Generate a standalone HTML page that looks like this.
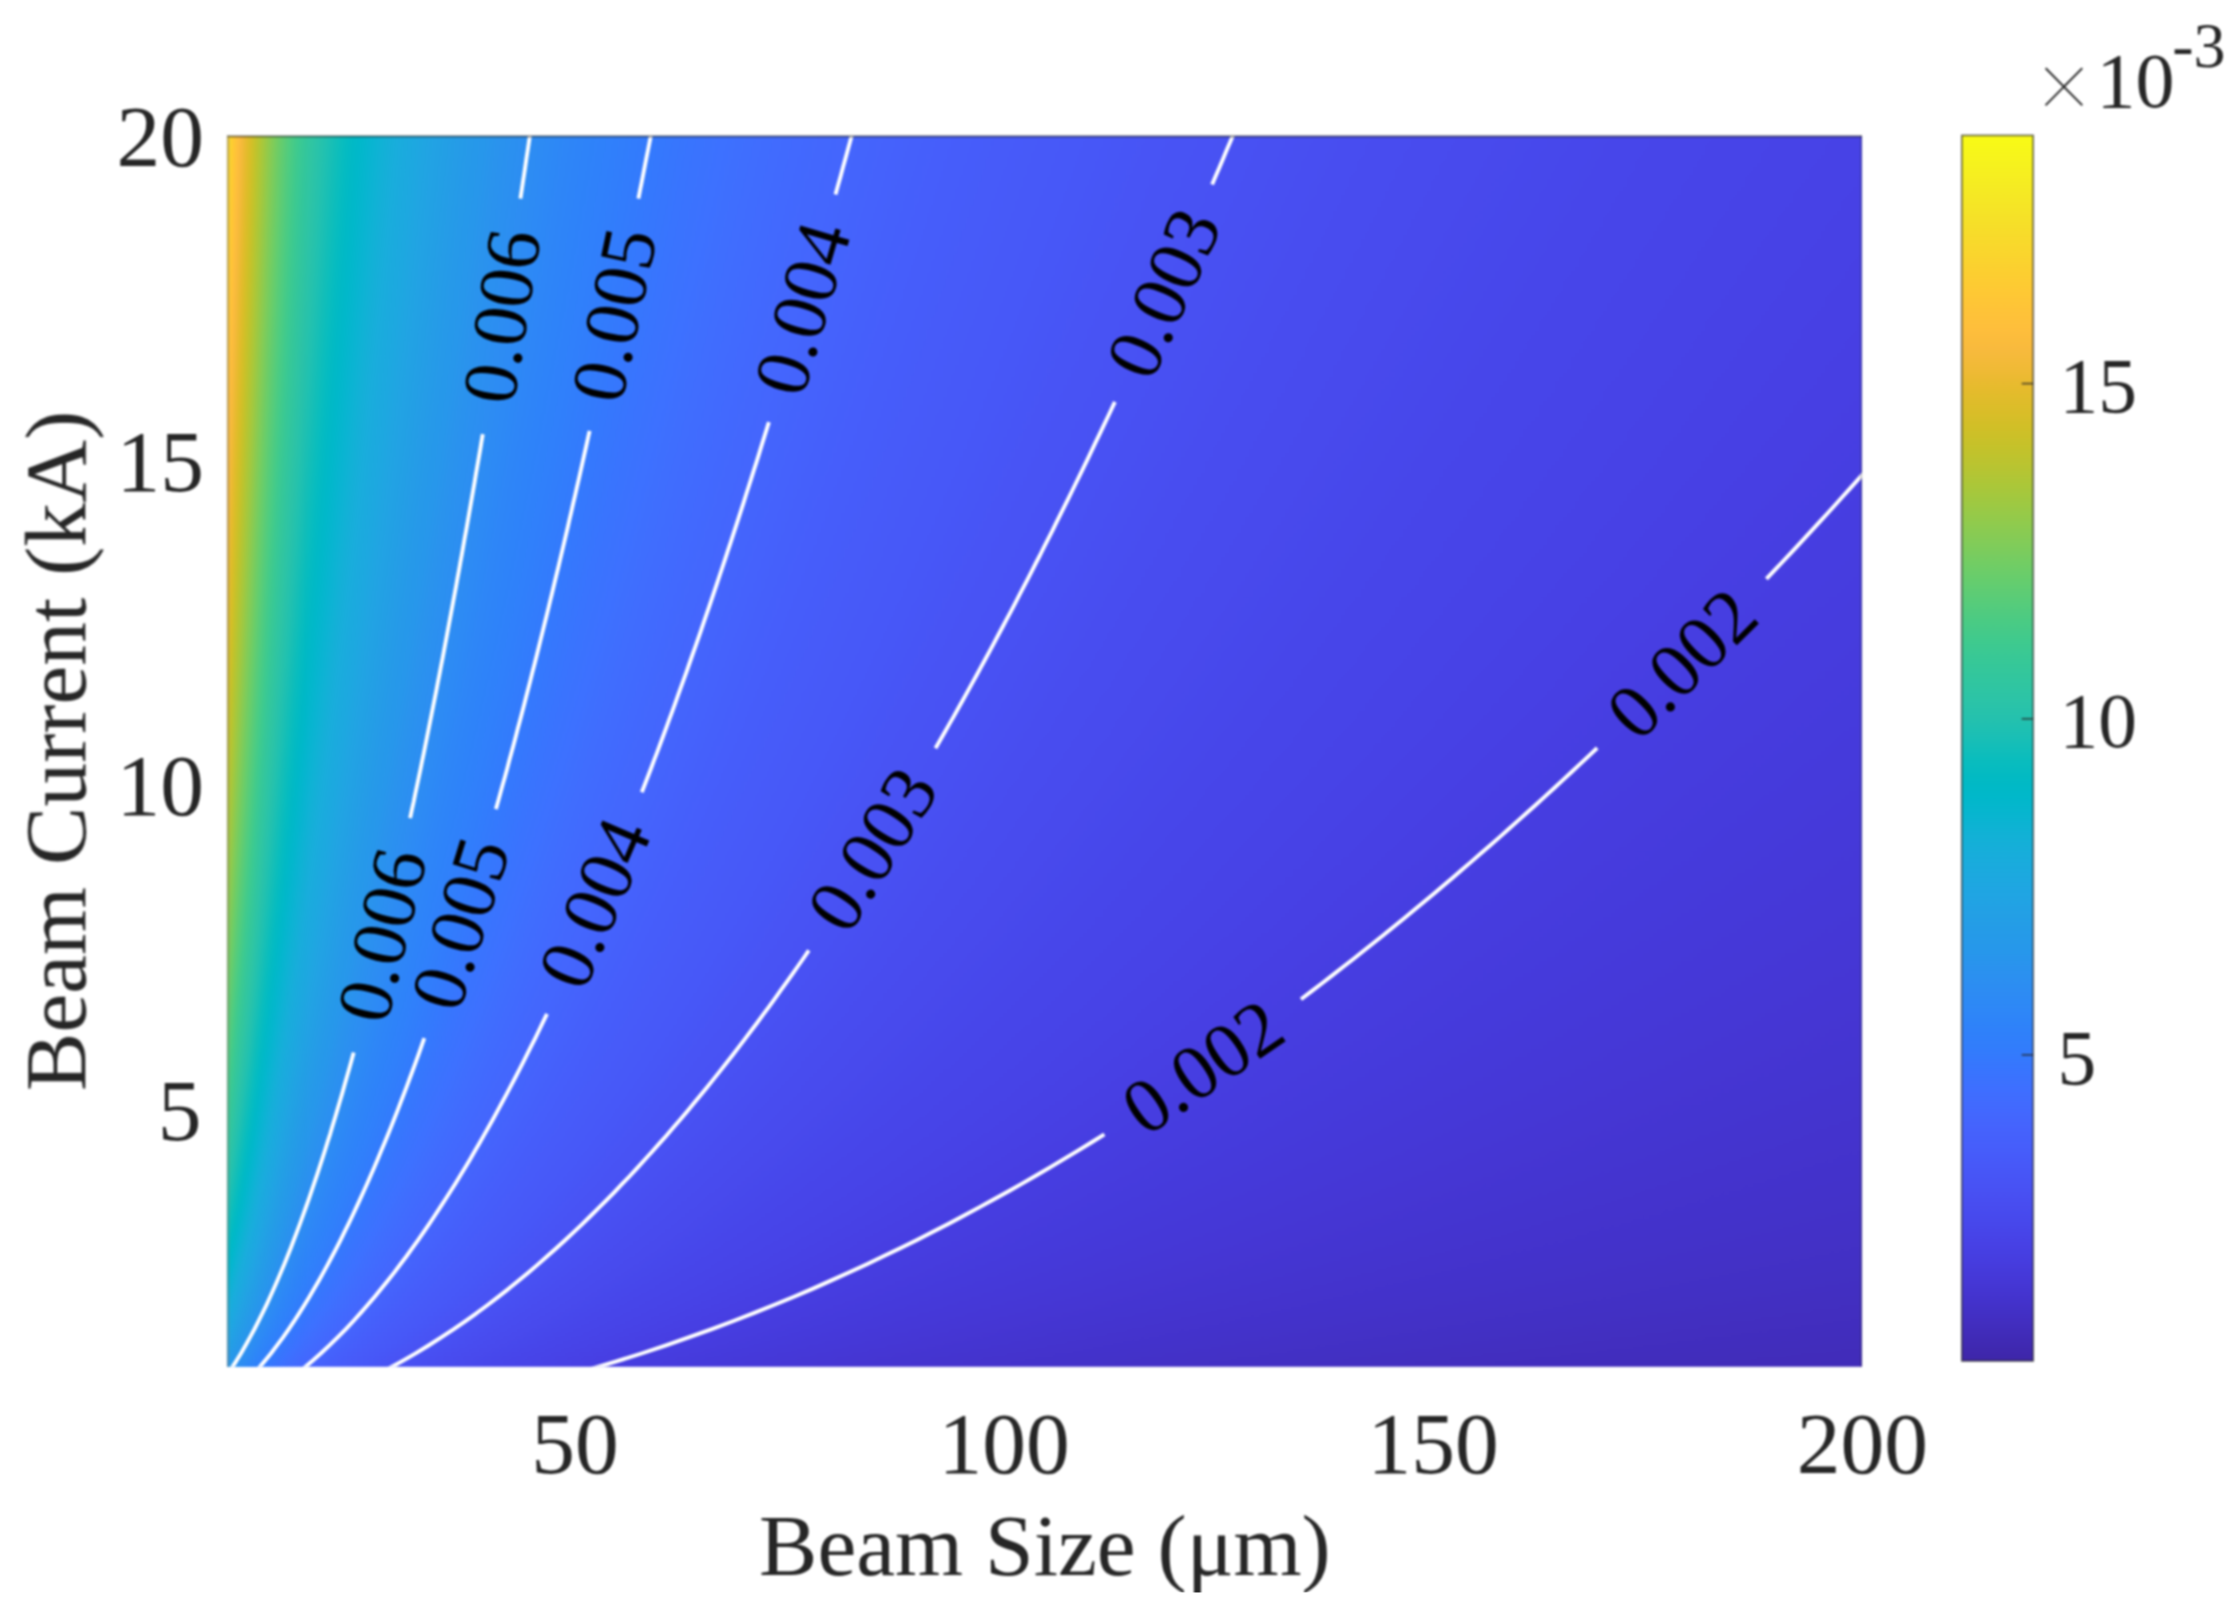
<!DOCTYPE html>
<html lang="en"><head><meta charset="utf-8"><title>Beam Current vs Beam Size</title>
<style>html,body{margin:0;padding:0;background:#fff;}svg{display:block;}text{font-family:"Liberation Serif","DejaVu Serif",serif;}#all{filter:blur(0.9px);}</style></head><body>
<svg width="2236" height="1615" viewBox="0 0 2236 1615">
<rect width="2236" height="1615" fill="#fff"/>
<g id="all">
<defs>
<linearGradient id="g" gradientUnits="userSpaceOnUse" x1="0" y1="0" x2="200" y2="0">
<stop offset="0.01063" stop-color="#fad42e"/>
<stop offset="0.01080" stop-color="#fcd030"/>
<stop offset="0.01098" stop-color="#fdcc32"/>
<stop offset="0.01116" stop-color="#fec834"/>
<stop offset="0.01134" stop-color="#fec537"/>
<stop offset="0.01153" stop-color="#fec13a"/>
<stop offset="0.01173" stop-color="#febe3c"/>
<stop offset="0.01193" stop-color="#fabb3d"/>
<stop offset="0.01214" stop-color="#f6ba3b"/>
<stop offset="0.01235" stop-color="#f1ba37"/>
<stop offset="0.01257" stop-color="#ebba32"/>
<stop offset="0.01279" stop-color="#e6bb2d"/>
<stop offset="0.01303" stop-color="#dfbc2a"/>
<stop offset="0.01327" stop-color="#d9be28"/>
<stop offset="0.01352" stop-color="#d2bf27"/>
<stop offset="0.01377" stop-color="#cbc129"/>
<stop offset="0.01403" stop-color="#c3c22b"/>
<stop offset="0.01431" stop-color="#bbc42f"/>
<stop offset="0.01459" stop-color="#b3c534"/>
<stop offset="0.01488" stop-color="#abc739"/>
<stop offset="0.01518" stop-color="#a3c83f"/>
<stop offset="0.01549" stop-color="#9ac945"/>
<stop offset="0.01581" stop-color="#91ca4c"/>
<stop offset="0.01614" stop-color="#88cb53"/>
<stop offset="0.01649" stop-color="#7fcc5a"/>
<stop offset="0.01684" stop-color="#76cc60"/>
<stop offset="0.01721" stop-color="#6dcd67"/>
<stop offset="0.01759" stop-color="#65cd6e"/>
<stop offset="0.01799" stop-color="#5dcc75"/>
<stop offset="0.01840" stop-color="#55cc7c"/>
<stop offset="0.01883" stop-color="#4dcc82"/>
<stop offset="0.01928" stop-color="#46cb88"/>
<stop offset="0.01974" stop-color="#3fca8e"/>
<stop offset="0.02023" stop-color="#3ac994"/>
<stop offset="0.02073" stop-color="#36c799"/>
<stop offset="0.02125" stop-color="#32c69e"/>
<stop offset="0.02180" stop-color="#2fc5a3"/>
<stop offset="0.02237" stop-color="#2bc3a8"/>
<stop offset="0.02296" stop-color="#26c2ac"/>
<stop offset="0.02359" stop-color="#20c1b1"/>
<stop offset="0.02424" stop-color="#19bfb5"/>
<stop offset="0.02492" stop-color="#11beb9"/>
<stop offset="0.02563" stop-color="#0abdbe"/>
<stop offset="0.02638" stop-color="#04bbc2"/>
<stop offset="0.02716" stop-color="#01b9c6"/>
<stop offset="0.02799" stop-color="#01b8ca"/>
<stop offset="0.02886" stop-color="#05b6ce"/>
<stop offset="0.02977" stop-color="#0ab4d2"/>
<stop offset="0.03074" stop-color="#10b2d5"/>
<stop offset="0.03175" stop-color="#15afd8"/>
<stop offset="0.03282" stop-color="#19addc"/>
<stop offset="0.03396" stop-color="#1baade"/>
<stop offset="0.03516" stop-color="#1da8e0"/>
<stop offset="0.03644" stop-color="#20a5e2"/>
<stop offset="0.03779" stop-color="#22a2e4"/>
<stop offset="0.03923" stop-color="#239fe5"/>
<stop offset="0.04076" stop-color="#259ce7"/>
<stop offset="0.04240" stop-color="#2699e9"/>
<stop offset="0.04415" stop-color="#2797eb"/>
<stop offset="0.04602" stop-color="#2a93ed"/>
<stop offset="0.04803" stop-color="#2b90f0"/>
<stop offset="0.05019" stop-color="#2d8df2"/>
<stop offset="0.05251" stop-color="#2d8af5"/>
<stop offset="0.05502" stop-color="#2e86f7"/>
<stop offset="0.05774" stop-color="#2e83f9"/>
<stop offset="0.06069" stop-color="#3080fb"/>
<stop offset="0.06390" stop-color="#327cfc"/>
<stop offset="0.06740" stop-color="#3578fd"/>
<stop offset="0.07124" stop-color="#3974fe"/>
<stop offset="0.07545" stop-color="#3d71ff"/>
<stop offset="0.08009" stop-color="#406dfe"/>
<stop offset="0.08523" stop-color="#4269fe"/>
<stop offset="0.09094" stop-color="#4466fd"/>
<stop offset="0.09733" stop-color="#4562fc"/>
<stop offset="0.10449" stop-color="#465efb"/>
<stop offset="0.11258" stop-color="#475bf9"/>
<stop offset="0.12177" stop-color="#4758f8"/>
<stop offset="0.13229" stop-color="#4854f5"/>
<stop offset="0.14441" stop-color="#4851f3"/>
<stop offset="0.15849" stop-color="#484df0"/>
<stop offset="0.17503" stop-color="#484aed"/>
<stop offset="0.19466" stop-color="#4746ea"/>
<stop offset="0.21825" stop-color="#4743e7"/>
<stop offset="0.24703" stop-color="#473fe3"/>
<stop offset="0.28274" stop-color="#463cde"/>
<stop offset="0.32796" stop-color="#4539d9"/>
<stop offset="0.38666" stop-color="#4536d3"/>
<stop offset="0.44666" stop-color="#4434ce"/>
<stop offset="0.46524" stop-color="#4433cd"/>
<stop offset="0.52524" stop-color="#4332c9"/>
<stop offset="0.57457" stop-color="#4331c6"/>
<stop offset="0.63457" stop-color="#4230c3"/>
<stop offset="0.69457" stop-color="#422fc0"/>
<stop offset="0.73460" stop-color="#422ebf"/>
<stop offset="0.79460" stop-color="#412dbd"/>
<stop offset="0.85460" stop-color="#412dbb"/>
<stop offset="0.91460" stop-color="#412cba"/>
<stop offset="0.97460" stop-color="#402cb8"/>
<stop offset="0.98568" stop-color="#402bb8"/>
</linearGradient>
<linearGradient id="g0" href="#g" gradientTransform="matrix(38.3548 0 0 1 145.400 0)"/>
<linearGradient id="g1" href="#g" gradientTransform="matrix(38.2955 0 0 1 145.400 0)"/>
<linearGradient id="g2" href="#g" gradientTransform="matrix(38.2362 0 0 1 145.400 0)"/>
<linearGradient id="g3" href="#g" gradientTransform="matrix(38.1768 0 0 1 145.400 0)"/>
<linearGradient id="g4" href="#g" gradientTransform="matrix(38.1173 0 0 1 145.400 0)"/>
<linearGradient id="g5" href="#g" gradientTransform="matrix(38.0577 0 0 1 145.400 0)"/>
<linearGradient id="g6" href="#g" gradientTransform="matrix(37.9980 0 0 1 145.400 0)"/>
<linearGradient id="g7" href="#g" gradientTransform="matrix(37.9382 0 0 1 145.400 0)"/>
<linearGradient id="g8" href="#g" gradientTransform="matrix(37.8783 0 0 1 145.400 0)"/>
<linearGradient id="g9" href="#g" gradientTransform="matrix(37.8183 0 0 1 145.400 0)"/>
<linearGradient id="g10" href="#g" gradientTransform="matrix(37.7582 0 0 1 145.400 0)"/>
<linearGradient id="g11" href="#g" gradientTransform="matrix(37.6981 0 0 1 145.400 0)"/>
<linearGradient id="g12" href="#g" gradientTransform="matrix(37.6378 0 0 1 145.400 0)"/>
<linearGradient id="g13" href="#g" gradientTransform="matrix(37.5774 0 0 1 145.400 0)"/>
<linearGradient id="g14" href="#g" gradientTransform="matrix(37.5170 0 0 1 145.400 0)"/>
<linearGradient id="g15" href="#g" gradientTransform="matrix(37.4564 0 0 1 145.400 0)"/>
<linearGradient id="g16" href="#g" gradientTransform="matrix(37.3957 0 0 1 145.400 0)"/>
<linearGradient id="g17" href="#g" gradientTransform="matrix(37.3350 0 0 1 145.400 0)"/>
<linearGradient id="g18" href="#g" gradientTransform="matrix(37.2741 0 0 1 145.400 0)"/>
<linearGradient id="g19" href="#g" gradientTransform="matrix(37.2132 0 0 1 145.400 0)"/>
<linearGradient id="g20" href="#g" gradientTransform="matrix(37.1521 0 0 1 145.400 0)"/>
<linearGradient id="g21" href="#g" gradientTransform="matrix(37.0910 0 0 1 145.400 0)"/>
<linearGradient id="g22" href="#g" gradientTransform="matrix(37.0297 0 0 1 145.400 0)"/>
<linearGradient id="g23" href="#g" gradientTransform="matrix(36.9683 0 0 1 145.400 0)"/>
<linearGradient id="g24" href="#g" gradientTransform="matrix(36.9069 0 0 1 145.400 0)"/>
<linearGradient id="g25" href="#g" gradientTransform="matrix(36.8453 0 0 1 145.400 0)"/>
<linearGradient id="g26" href="#g" gradientTransform="matrix(36.7837 0 0 1 145.400 0)"/>
<linearGradient id="g27" href="#g" gradientTransform="matrix(36.7219 0 0 1 145.400 0)"/>
<linearGradient id="g28" href="#g" gradientTransform="matrix(36.6600 0 0 1 145.400 0)"/>
<linearGradient id="g29" href="#g" gradientTransform="matrix(36.5980 0 0 1 145.400 0)"/>
<linearGradient id="g30" href="#g" gradientTransform="matrix(36.5360 0 0 1 145.400 0)"/>
<linearGradient id="g31" href="#g" gradientTransform="matrix(36.4738 0 0 1 145.400 0)"/>
<linearGradient id="g32" href="#g" gradientTransform="matrix(36.4115 0 0 1 145.400 0)"/>
<linearGradient id="g33" href="#g" gradientTransform="matrix(36.3491 0 0 1 145.400 0)"/>
<linearGradient id="g34" href="#g" gradientTransform="matrix(36.2866 0 0 1 145.400 0)"/>
<linearGradient id="g35" href="#g" gradientTransform="matrix(36.2239 0 0 1 145.400 0)"/>
<linearGradient id="g36" href="#g" gradientTransform="matrix(36.1612 0 0 1 145.400 0)"/>
<linearGradient id="g37" href="#g" gradientTransform="matrix(36.0984 0 0 1 145.400 0)"/>
<linearGradient id="g38" href="#g" gradientTransform="matrix(36.0354 0 0 1 145.400 0)"/>
<linearGradient id="g39" href="#g" gradientTransform="matrix(35.9724 0 0 1 145.400 0)"/>
<linearGradient id="g40" href="#g" gradientTransform="matrix(35.9092 0 0 1 145.400 0)"/>
<linearGradient id="g41" href="#g" gradientTransform="matrix(35.8459 0 0 1 145.400 0)"/>
<linearGradient id="g42" href="#g" gradientTransform="matrix(35.7826 0 0 1 145.400 0)"/>
<linearGradient id="g43" href="#g" gradientTransform="matrix(35.7191 0 0 1 145.400 0)"/>
<linearGradient id="g44" href="#g" gradientTransform="matrix(35.6554 0 0 1 145.400 0)"/>
<linearGradient id="g45" href="#g" gradientTransform="matrix(35.5917 0 0 1 145.400 0)"/>
<linearGradient id="g46" href="#g" gradientTransform="matrix(35.5279 0 0 1 145.400 0)"/>
<linearGradient id="g47" href="#g" gradientTransform="matrix(35.4639 0 0 1 145.400 0)"/>
<linearGradient id="g48" href="#g" gradientTransform="matrix(35.3998 0 0 1 145.400 0)"/>
<linearGradient id="g49" href="#g" gradientTransform="matrix(35.3357 0 0 1 145.400 0)"/>
<linearGradient id="g50" href="#g" gradientTransform="matrix(35.2713 0 0 1 145.400 0)"/>
<linearGradient id="g51" href="#g" gradientTransform="matrix(35.2069 0 0 1 145.400 0)"/>
<linearGradient id="g52" href="#g" gradientTransform="matrix(35.1424 0 0 1 145.400 0)"/>
<linearGradient id="g53" href="#g" gradientTransform="matrix(35.0777 0 0 1 145.400 0)"/>
<linearGradient id="g54" href="#g" gradientTransform="matrix(35.0129 0 0 1 145.400 0)"/>
<linearGradient id="g55" href="#g" gradientTransform="matrix(34.9480 0 0 1 145.400 0)"/>
<linearGradient id="g56" href="#g" gradientTransform="matrix(34.8830 0 0 1 145.400 0)"/>
<linearGradient id="g57" href="#g" gradientTransform="matrix(34.8179 0 0 1 145.400 0)"/>
<linearGradient id="g58" href="#g" gradientTransform="matrix(34.7526 0 0 1 145.400 0)"/>
<linearGradient id="g59" href="#g" gradientTransform="matrix(34.6872 0 0 1 145.400 0)"/>
<linearGradient id="g60" href="#g" gradientTransform="matrix(34.6217 0 0 1 145.400 0)"/>
<linearGradient id="g61" href="#g" gradientTransform="matrix(34.5561 0 0 1 145.400 0)"/>
<linearGradient id="g62" href="#g" gradientTransform="matrix(34.4903 0 0 1 145.400 0)"/>
<linearGradient id="g63" href="#g" gradientTransform="matrix(34.4245 0 0 1 145.400 0)"/>
<linearGradient id="g64" href="#g" gradientTransform="matrix(34.3584 0 0 1 145.400 0)"/>
<linearGradient id="g65" href="#g" gradientTransform="matrix(34.2923 0 0 1 145.400 0)"/>
<linearGradient id="g66" href="#g" gradientTransform="matrix(34.2260 0 0 1 145.400 0)"/>
<linearGradient id="g67" href="#g" gradientTransform="matrix(34.1596 0 0 1 145.400 0)"/>
<linearGradient id="g68" href="#g" gradientTransform="matrix(34.0931 0 0 1 145.400 0)"/>
<linearGradient id="g69" href="#g" gradientTransform="matrix(34.0265 0 0 1 145.400 0)"/>
<linearGradient id="g70" href="#g" gradientTransform="matrix(33.9597 0 0 1 145.400 0)"/>
<linearGradient id="g71" href="#g" gradientTransform="matrix(33.8928 0 0 1 145.400 0)"/>
<linearGradient id="g72" href="#g" gradientTransform="matrix(33.8257 0 0 1 145.400 0)"/>
<linearGradient id="g73" href="#g" gradientTransform="matrix(33.7585 0 0 1 145.400 0)"/>
<linearGradient id="g74" href="#g" gradientTransform="matrix(33.6912 0 0 1 145.400 0)"/>
<linearGradient id="g75" href="#g" gradientTransform="matrix(33.6238 0 0 1 145.400 0)"/>
<linearGradient id="g76" href="#g" gradientTransform="matrix(33.5562 0 0 1 145.400 0)"/>
<linearGradient id="g77" href="#g" gradientTransform="matrix(33.4885 0 0 1 145.400 0)"/>
<linearGradient id="g78" href="#g" gradientTransform="matrix(33.4206 0 0 1 145.400 0)"/>
<linearGradient id="g79" href="#g" gradientTransform="matrix(33.3526 0 0 1 145.400 0)"/>
<linearGradient id="g80" href="#g" gradientTransform="matrix(33.2845 0 0 1 145.400 0)"/>
<linearGradient id="g81" href="#g" gradientTransform="matrix(33.2162 0 0 1 145.400 0)"/>
<linearGradient id="g82" href="#g" gradientTransform="matrix(33.1478 0 0 1 145.400 0)"/>
<linearGradient id="g83" href="#g" gradientTransform="matrix(33.0792 0 0 1 145.400 0)"/>
<linearGradient id="g84" href="#g" gradientTransform="matrix(33.0105 0 0 1 145.400 0)"/>
<linearGradient id="g85" href="#g" gradientTransform="matrix(32.9417 0 0 1 145.400 0)"/>
<linearGradient id="g86" href="#g" gradientTransform="matrix(32.8727 0 0 1 145.400 0)"/>
<linearGradient id="g87" href="#g" gradientTransform="matrix(32.8036 0 0 1 145.400 0)"/>
<linearGradient id="g88" href="#g" gradientTransform="matrix(32.7343 0 0 1 145.400 0)"/>
<linearGradient id="g89" href="#g" gradientTransform="matrix(32.6649 0 0 1 145.400 0)"/>
<linearGradient id="g90" href="#g" gradientTransform="matrix(32.5953 0 0 1 145.400 0)"/>
<linearGradient id="g91" href="#g" gradientTransform="matrix(32.5256 0 0 1 145.400 0)"/>
<linearGradient id="g92" href="#g" gradientTransform="matrix(32.4557 0 0 1 145.400 0)"/>
<linearGradient id="g93" href="#g" gradientTransform="matrix(32.3857 0 0 1 145.400 0)"/>
<linearGradient id="g94" href="#g" gradientTransform="matrix(32.3155 0 0 1 145.400 0)"/>
<linearGradient id="g95" href="#g" gradientTransform="matrix(32.2452 0 0 1 145.400 0)"/>
<linearGradient id="g96" href="#g" gradientTransform="matrix(32.1747 0 0 1 145.400 0)"/>
<linearGradient id="g97" href="#g" gradientTransform="matrix(32.1040 0 0 1 145.400 0)"/>
<linearGradient id="g98" href="#g" gradientTransform="matrix(32.0332 0 0 1 145.400 0)"/>
<linearGradient id="g99" href="#g" gradientTransform="matrix(31.9623 0 0 1 145.400 0)"/>
<linearGradient id="g100" href="#g" gradientTransform="matrix(31.8912 0 0 1 145.400 0)"/>
<linearGradient id="g101" href="#g" gradientTransform="matrix(31.8199 0 0 1 145.400 0)"/>
<linearGradient id="g102" href="#g" gradientTransform="matrix(31.7485 0 0 1 145.400 0)"/>
<linearGradient id="g103" href="#g" gradientTransform="matrix(31.6769 0 0 1 145.400 0)"/>
<linearGradient id="g104" href="#g" gradientTransform="matrix(31.6052 0 0 1 145.400 0)"/>
<linearGradient id="g105" href="#g" gradientTransform="matrix(31.5333 0 0 1 145.400 0)"/>
<linearGradient id="g106" href="#g" gradientTransform="matrix(31.4612 0 0 1 145.400 0)"/>
<linearGradient id="g107" href="#g" gradientTransform="matrix(31.3889 0 0 1 145.400 0)"/>
<linearGradient id="g108" href="#g" gradientTransform="matrix(31.3165 0 0 1 145.400 0)"/>
<linearGradient id="g109" href="#g" gradientTransform="matrix(31.2440 0 0 1 145.400 0)"/>
<linearGradient id="g110" href="#g" gradientTransform="matrix(31.1712 0 0 1 145.400 0)"/>
<linearGradient id="g111" href="#g" gradientTransform="matrix(31.0983 0 0 1 145.400 0)"/>
<linearGradient id="g112" href="#g" gradientTransform="matrix(31.0252 0 0 1 145.400 0)"/>
<linearGradient id="g113" href="#g" gradientTransform="matrix(30.9519 0 0 1 145.400 0)"/>
<linearGradient id="g114" href="#g" gradientTransform="matrix(30.8785 0 0 1 145.400 0)"/>
<linearGradient id="g115" href="#g" gradientTransform="matrix(30.8049 0 0 1 145.400 0)"/>
<linearGradient id="g116" href="#g" gradientTransform="matrix(30.7311 0 0 1 145.400 0)"/>
<linearGradient id="g117" href="#g" gradientTransform="matrix(30.6572 0 0 1 145.400 0)"/>
<linearGradient id="g118" href="#g" gradientTransform="matrix(30.5830 0 0 1 145.400 0)"/>
<linearGradient id="g119" href="#g" gradientTransform="matrix(30.5087 0 0 1 145.400 0)"/>
<linearGradient id="g120" href="#g" gradientTransform="matrix(30.4342 0 0 1 145.400 0)"/>
<linearGradient id="g121" href="#g" gradientTransform="matrix(30.3595 0 0 1 145.400 0)"/>
<linearGradient id="g122" href="#g" gradientTransform="matrix(30.2846 0 0 1 145.400 0)"/>
<linearGradient id="g123" href="#g" gradientTransform="matrix(30.2096 0 0 1 145.400 0)"/>
<linearGradient id="g124" href="#g" gradientTransform="matrix(30.1343 0 0 1 145.400 0)"/>
<linearGradient id="g125" href="#g" gradientTransform="matrix(30.0589 0 0 1 145.400 0)"/>
<linearGradient id="g126" href="#g" gradientTransform="matrix(29.9833 0 0 1 145.400 0)"/>
<linearGradient id="g127" href="#g" gradientTransform="matrix(29.9075 0 0 1 145.400 0)"/>
<linearGradient id="g128" href="#g" gradientTransform="matrix(29.8315 0 0 1 145.400 0)"/>
<linearGradient id="g129" href="#g" gradientTransform="matrix(29.7553 0 0 1 145.400 0)"/>
<linearGradient id="g130" href="#g" gradientTransform="matrix(29.6789 0 0 1 145.400 0)"/>
<linearGradient id="g131" href="#g" gradientTransform="matrix(29.6023 0 0 1 145.400 0)"/>
<linearGradient id="g132" href="#g" gradientTransform="matrix(29.5255 0 0 1 145.400 0)"/>
<linearGradient id="g133" href="#g" gradientTransform="matrix(29.4485 0 0 1 145.400 0)"/>
<linearGradient id="g134" href="#g" gradientTransform="matrix(29.3713 0 0 1 145.400 0)"/>
<linearGradient id="g135" href="#g" gradientTransform="matrix(29.2939 0 0 1 145.400 0)"/>
<linearGradient id="g136" href="#g" gradientTransform="matrix(29.2163 0 0 1 145.400 0)"/>
<linearGradient id="g137" href="#g" gradientTransform="matrix(29.1385 0 0 1 145.400 0)"/>
<linearGradient id="g138" href="#g" gradientTransform="matrix(29.0605 0 0 1 145.400 0)"/>
<linearGradient id="g139" href="#g" gradientTransform="matrix(28.9823 0 0 1 145.400 0)"/>
<linearGradient id="g140" href="#g" gradientTransform="matrix(28.9038 0 0 1 145.400 0)"/>
<linearGradient id="g141" href="#g" gradientTransform="matrix(28.8252 0 0 1 145.400 0)"/>
<linearGradient id="g142" href="#g" gradientTransform="matrix(28.7463 0 0 1 145.400 0)"/>
<linearGradient id="g143" href="#g" gradientTransform="matrix(28.6673 0 0 1 145.400 0)"/>
<linearGradient id="g144" href="#g" gradientTransform="matrix(28.5879 0 0 1 145.400 0)"/>
<linearGradient id="g145" href="#g" gradientTransform="matrix(28.5084 0 0 1 145.400 0)"/>
<linearGradient id="g146" href="#g" gradientTransform="matrix(28.4287 0 0 1 145.400 0)"/>
<linearGradient id="g147" href="#g" gradientTransform="matrix(28.3487 0 0 1 145.400 0)"/>
<linearGradient id="g148" href="#g" gradientTransform="matrix(28.2685 0 0 1 145.400 0)"/>
<linearGradient id="g149" href="#g" gradientTransform="matrix(28.1881 0 0 1 145.400 0)"/>
<linearGradient id="g150" href="#g" gradientTransform="matrix(28.1074 0 0 1 145.400 0)"/>
<linearGradient id="g151" href="#g" gradientTransform="matrix(28.0266 0 0 1 145.400 0)"/>
<linearGradient id="g152" href="#g" gradientTransform="matrix(27.9454 0 0 1 145.400 0)"/>
<linearGradient id="g153" href="#g" gradientTransform="matrix(27.8641 0 0 1 145.400 0)"/>
<linearGradient id="g154" href="#g" gradientTransform="matrix(27.7825 0 0 1 145.400 0)"/>
<linearGradient id="g155" href="#g" gradientTransform="matrix(27.7007 0 0 1 145.400 0)"/>
<linearGradient id="g156" href="#g" gradientTransform="matrix(27.6186 0 0 1 145.400 0)"/>
<linearGradient id="g157" href="#g" gradientTransform="matrix(27.5363 0 0 1 145.400 0)"/>
<linearGradient id="g158" href="#g" gradientTransform="matrix(27.4537 0 0 1 145.400 0)"/>
<linearGradient id="g159" href="#g" gradientTransform="matrix(27.3709 0 0 1 145.400 0)"/>
<linearGradient id="g160" href="#g" gradientTransform="matrix(27.2878 0 0 1 145.400 0)"/>
<linearGradient id="g161" href="#g" gradientTransform="matrix(27.2045 0 0 1 145.400 0)"/>
<linearGradient id="g162" href="#g" gradientTransform="matrix(27.1209 0 0 1 145.400 0)"/>
<linearGradient id="g163" href="#g" gradientTransform="matrix(27.0371 0 0 1 145.400 0)"/>
<linearGradient id="g164" href="#g" gradientTransform="matrix(26.9530 0 0 1 145.400 0)"/>
<linearGradient id="g165" href="#g" gradientTransform="matrix(26.8686 0 0 1 145.400 0)"/>
<linearGradient id="g166" href="#g" gradientTransform="matrix(26.7840 0 0 1 145.400 0)"/>
<linearGradient id="g167" href="#g" gradientTransform="matrix(26.6991 0 0 1 145.400 0)"/>
<linearGradient id="g168" href="#g" gradientTransform="matrix(26.6139 0 0 1 145.400 0)"/>
<linearGradient id="g169" href="#g" gradientTransform="matrix(26.5285 0 0 1 145.400 0)"/>
<linearGradient id="g170" href="#g" gradientTransform="matrix(26.4428 0 0 1 145.400 0)"/>
<linearGradient id="g171" href="#g" gradientTransform="matrix(26.3568 0 0 1 145.400 0)"/>
<linearGradient id="g172" href="#g" gradientTransform="matrix(26.2705 0 0 1 145.400 0)"/>
<linearGradient id="g173" href="#g" gradientTransform="matrix(26.1840 0 0 1 145.400 0)"/>
<linearGradient id="g174" href="#g" gradientTransform="matrix(26.0971 0 0 1 145.400 0)"/>
<linearGradient id="g175" href="#g" gradientTransform="matrix(26.0100 0 0 1 145.400 0)"/>
<linearGradient id="g176" href="#g" gradientTransform="matrix(25.9225 0 0 1 145.400 0)"/>
<linearGradient id="g177" href="#g" gradientTransform="matrix(25.8348 0 0 1 145.400 0)"/>
<linearGradient id="g178" href="#g" gradientTransform="matrix(25.7468 0 0 1 145.400 0)"/>
<linearGradient id="g179" href="#g" gradientTransform="matrix(25.6585 0 0 1 145.400 0)"/>
<linearGradient id="g180" href="#g" gradientTransform="matrix(25.5698 0 0 1 145.400 0)"/>
<linearGradient id="g181" href="#g" gradientTransform="matrix(25.4809 0 0 1 145.400 0)"/>
<linearGradient id="g182" href="#g" gradientTransform="matrix(25.3917 0 0 1 145.400 0)"/>
<linearGradient id="g183" href="#g" gradientTransform="matrix(25.3021 0 0 1 145.400 0)"/>
<linearGradient id="g184" href="#g" gradientTransform="matrix(25.2122 0 0 1 145.400 0)"/>
<linearGradient id="g185" href="#g" gradientTransform="matrix(25.1220 0 0 1 145.400 0)"/>
<linearGradient id="g186" href="#g" gradientTransform="matrix(25.0315 0 0 1 145.400 0)"/>
<linearGradient id="g187" href="#g" gradientTransform="matrix(24.9406 0 0 1 145.400 0)"/>
<linearGradient id="g188" href="#g" gradientTransform="matrix(24.8494 0 0 1 145.400 0)"/>
<linearGradient id="g189" href="#g" gradientTransform="matrix(24.7579 0 0 1 145.400 0)"/>
<linearGradient id="g190" href="#g" gradientTransform="matrix(24.6660 0 0 1 145.400 0)"/>
<linearGradient id="g191" href="#g" gradientTransform="matrix(24.5738 0 0 1 145.400 0)"/>
<linearGradient id="g192" href="#g" gradientTransform="matrix(24.4813 0 0 1 145.400 0)"/>
<linearGradient id="g193" href="#g" gradientTransform="matrix(24.3883 0 0 1 145.400 0)"/>
<linearGradient id="g194" href="#g" gradientTransform="matrix(24.2951 0 0 1 145.400 0)"/>
<linearGradient id="g195" href="#g" gradientTransform="matrix(24.2015 0 0 1 145.400 0)"/>
<linearGradient id="g196" href="#g" gradientTransform="matrix(24.1075 0 0 1 145.400 0)"/>
<linearGradient id="g197" href="#g" gradientTransform="matrix(24.0131 0 0 1 145.400 0)"/>
<linearGradient id="g198" href="#g" gradientTransform="matrix(23.9184 0 0 1 145.400 0)"/>
<linearGradient id="g199" href="#g" gradientTransform="matrix(23.8233 0 0 1 145.400 0)"/>
<linearGradient id="g200" href="#g" gradientTransform="matrix(23.7278 0 0 1 145.400 0)"/>
<linearGradient id="g201" href="#g" gradientTransform="matrix(23.6319 0 0 1 145.400 0)"/>
<linearGradient id="g202" href="#g" gradientTransform="matrix(23.5357 0 0 1 145.400 0)"/>
<linearGradient id="g203" href="#g" gradientTransform="matrix(23.4390 0 0 1 145.400 0)"/>
<linearGradient id="g204" href="#g" gradientTransform="matrix(23.3420 0 0 1 145.400 0)"/>
<linearGradient id="g205" href="#g" gradientTransform="matrix(23.2445 0 0 1 145.400 0)"/>
<linearGradient id="g206" href="#g" gradientTransform="matrix(23.1466 0 0 1 145.400 0)"/>
<linearGradient id="g207" href="#g" gradientTransform="matrix(23.0483 0 0 1 145.400 0)"/>
<linearGradient id="g208" href="#g" gradientTransform="matrix(22.9496 0 0 1 145.400 0)"/>
<linearGradient id="g209" href="#g" gradientTransform="matrix(22.8505 0 0 1 145.400 0)"/>
<linearGradient id="g210" href="#g" gradientTransform="matrix(22.7509 0 0 1 145.400 0)"/>
<linearGradient id="g211" href="#g" gradientTransform="matrix(22.6509 0 0 1 145.400 0)"/>
<linearGradient id="g212" href="#g" gradientTransform="matrix(22.5505 0 0 1 145.400 0)"/>
<linearGradient id="g213" href="#g" gradientTransform="matrix(22.4496 0 0 1 145.400 0)"/>
<linearGradient id="g214" href="#g" gradientTransform="matrix(22.3482 0 0 1 145.400 0)"/>
<linearGradient id="g215" href="#g" gradientTransform="matrix(22.2464 0 0 1 145.400 0)"/>
<linearGradient id="g216" href="#g" gradientTransform="matrix(22.1441 0 0 1 145.400 0)"/>
<linearGradient id="g217" href="#g" gradientTransform="matrix(22.0414 0 0 1 145.400 0)"/>
<linearGradient id="g218" href="#g" gradientTransform="matrix(21.9381 0 0 1 145.400 0)"/>
<linearGradient id="g219" href="#g" gradientTransform="matrix(21.8344 0 0 1 145.400 0)"/>
<linearGradient id="g220" href="#g" gradientTransform="matrix(21.7302 0 0 1 145.400 0)"/>
<linearGradient id="g221" href="#g" gradientTransform="matrix(21.6255 0 0 1 145.400 0)"/>
<linearGradient id="g222" href="#g" gradientTransform="matrix(21.5202 0 0 1 145.400 0)"/>
<linearGradient id="g223" href="#g" gradientTransform="matrix(21.4145 0 0 1 145.400 0)"/>
<linearGradient id="g224" href="#g" gradientTransform="matrix(21.3082 0 0 1 145.400 0)"/>
<linearGradient id="g225" href="#g" gradientTransform="matrix(21.2014 0 0 1 145.400 0)"/>
<linearGradient id="g226" href="#g" gradientTransform="matrix(21.0940 0 0 1 145.400 0)"/>
<linearGradient id="g227" href="#g" gradientTransform="matrix(20.9861 0 0 1 145.400 0)"/>
<linearGradient id="g228" href="#g" gradientTransform="matrix(20.8777 0 0 1 145.400 0)"/>
<linearGradient id="g229" href="#g" gradientTransform="matrix(20.7687 0 0 1 145.400 0)"/>
<linearGradient id="g230" href="#g" gradientTransform="matrix(20.6591 0 0 1 145.400 0)"/>
<linearGradient id="g231" href="#g" gradientTransform="matrix(20.5489 0 0 1 145.400 0)"/>
<linearGradient id="g232" href="#g" gradientTransform="matrix(20.4381 0 0 1 145.400 0)"/>
<linearGradient id="g233" href="#g" gradientTransform="matrix(20.3267 0 0 1 145.400 0)"/>
<linearGradient id="g234" href="#g" gradientTransform="matrix(20.2147 0 0 1 145.400 0)"/>
<linearGradient id="g235" href="#g" gradientTransform="matrix(20.1021 0 0 1 145.400 0)"/>
<linearGradient id="g236" href="#g" gradientTransform="matrix(19.9889 0 0 1 145.400 0)"/>
<linearGradient id="g237" href="#g" gradientTransform="matrix(19.8750 0 0 1 145.400 0)"/>
<linearGradient id="g238" href="#g" gradientTransform="matrix(19.7604 0 0 1 145.400 0)"/>
<linearGradient id="g239" href="#g" gradientTransform="matrix(19.6452 0 0 1 145.400 0)"/>
<linearGradient id="g240" href="#g" gradientTransform="matrix(19.5293 0 0 1 145.400 0)"/>
<linearGradient id="g241" href="#g" gradientTransform="matrix(19.4127 0 0 1 145.400 0)"/>
<linearGradient id="g242" href="#g" gradientTransform="matrix(19.2954 0 0 1 145.400 0)"/>
<linearGradient id="g243" href="#g" gradientTransform="matrix(19.1774 0 0 1 145.400 0)"/>
<linearGradient id="g244" href="#g" gradientTransform="matrix(19.0586 0 0 1 145.400 0)"/>
<linearGradient id="g245" href="#g" gradientTransform="matrix(18.9391 0 0 1 145.400 0)"/>
<linearGradient id="g246" href="#g" gradientTransform="matrix(18.8189 0 0 1 145.400 0)"/>
<linearGradient id="g247" href="#g" gradientTransform="matrix(18.6979 0 0 1 145.400 0)"/>
<linearGradient id="g248" href="#g" gradientTransform="matrix(18.5761 0 0 1 145.400 0)"/>
<linearGradient id="g249" href="#g" gradientTransform="matrix(18.4534 0 0 1 145.400 0)"/>
<linearGradient id="g250" href="#g" gradientTransform="matrix(18.3300 0 0 1 145.400 0)"/>
<linearGradient id="g251" href="#g" gradientTransform="matrix(18.2057 0 0 1 145.400 0)"/>
<linearGradient id="g252" href="#g" gradientTransform="matrix(18.0806 0 0 1 145.400 0)"/>
<linearGradient id="g253" href="#g" gradientTransform="matrix(17.9546 0 0 1 145.400 0)"/>
<linearGradient id="g254" href="#g" gradientTransform="matrix(17.8277 0 0 1 145.400 0)"/>
<linearGradient id="g255" href="#g" gradientTransform="matrix(17.6999 0 0 1 145.400 0)"/>
<linearGradient id="g256" href="#g" gradientTransform="matrix(17.5712 0 0 1 145.400 0)"/>
<linearGradient id="g257" href="#g" gradientTransform="matrix(17.4415 0 0 1 145.400 0)"/>
<linearGradient id="g258" href="#g" gradientTransform="matrix(17.3109 0 0 1 145.400 0)"/>
<linearGradient id="g259" href="#g" gradientTransform="matrix(17.1792 0 0 1 145.400 0)"/>
<linearGradient id="g260" href="#g" gradientTransform="matrix(17.0466 0 0 1 145.400 0)"/>
<linearGradient id="g261" href="#g" gradientTransform="matrix(16.9129 0 0 1 145.400 0)"/>
<linearGradient id="g262" href="#g" gradientTransform="matrix(16.7781 0 0 1 145.400 0)"/>
<linearGradient id="g263" href="#g" gradientTransform="matrix(16.6422 0 0 1 145.400 0)"/>
<linearGradient id="g264" href="#g" gradientTransform="matrix(16.5053 0 0 1 145.400 0)"/>
<linearGradient id="g265" href="#g" gradientTransform="matrix(16.3671 0 0 1 145.400 0)"/>
<linearGradient id="g266" href="#g" gradientTransform="matrix(16.2278 0 0 1 145.400 0)"/>
<linearGradient id="g267" href="#g" gradientTransform="matrix(16.0873 0 0 1 145.400 0)"/>
<linearGradient id="g268" href="#g" gradientTransform="matrix(15.9456 0 0 1 145.400 0)"/>
<linearGradient id="g269" href="#g" gradientTransform="matrix(15.8026 0 0 1 145.400 0)"/>
<linearGradient id="g270" href="#g" gradientTransform="matrix(15.6583 0 0 1 145.400 0)"/>
<linearGradient id="g271" href="#g" gradientTransform="matrix(15.5126 0 0 1 145.400 0)"/>
<linearGradient id="g272" href="#g" gradientTransform="matrix(15.3656 0 0 1 145.400 0)"/>
<linearGradient id="g273" href="#g" gradientTransform="matrix(15.2171 0 0 1 145.400 0)"/>
<linearGradient id="g274" href="#g" gradientTransform="matrix(15.0672 0 0 1 145.400 0)"/>
<linearGradient id="g275" href="#g" gradientTransform="matrix(14.9157 0 0 1 145.400 0)"/>
<linearGradient id="g276" href="#g" gradientTransform="matrix(14.7628 0 0 1 145.400 0)"/>
<linearGradient id="g277" href="#g" gradientTransform="matrix(14.6082 0 0 1 145.400 0)"/>
<linearGradient id="g278" href="#g" gradientTransform="matrix(14.4519 0 0 1 145.400 0)"/>
<linearGradient id="g279" href="#g" gradientTransform="matrix(14.2940 0 0 1 145.400 0)"/>
<linearGradient id="g280" href="#g" gradientTransform="matrix(14.1343 0 0 1 145.400 0)"/>
<linearGradient id="g281" href="#g" gradientTransform="matrix(13.9727 0 0 1 145.400 0)"/>
<linearGradient id="g282" href="#g" gradientTransform="matrix(13.8093 0 0 1 145.400 0)"/>
<linearGradient id="g283" href="#g" gradientTransform="matrix(13.6439 0 0 1 145.400 0)"/>
<linearGradient id="g284" href="#g" gradientTransform="matrix(13.4765 0 0 1 145.400 0)"/>
<linearGradient id="g285" href="#g" gradientTransform="matrix(13.3070 0 0 1 145.400 0)"/>
<linearGradient id="g286" href="#g" gradientTransform="matrix(13.1353 0 0 1 145.400 0)"/>
<linearGradient id="g287" href="#g" gradientTransform="matrix(12.9613 0 0 1 145.400 0)"/>
<linearGradient id="g288" href="#g" gradientTransform="matrix(12.7849 0 0 1 145.400 0)"/>
<linearGradient id="g289" href="#g" gradientTransform="matrix(12.6061 0 0 1 145.400 0)"/>
<linearGradient id="g290" href="#g" gradientTransform="matrix(12.4247 0 0 1 145.400 0)"/>
<linearGradient id="g291" href="#g" gradientTransform="matrix(12.2406 0 0 1 145.400 0)"/>
<linearGradient id="g292" href="#g" gradientTransform="matrix(12.0537 0 0 1 145.400 0)"/>
<linearGradient id="g293" href="#g" gradientTransform="matrix(11.8639 0 0 1 145.400 0)"/>
<linearGradient id="g294" href="#g" gradientTransform="matrix(11.6710 0 0 1 145.400 0)"/>
<linearGradient id="g295" href="#g" gradientTransform="matrix(11.4748 0 0 1 145.400 0)"/>
<linearGradient id="g296" href="#g" gradientTransform="matrix(11.2752 0 0 1 145.400 0)"/>
<linearGradient id="g297" href="#g" gradientTransform="matrix(11.0721 0 0 1 145.400 0)"/>
<linearGradient id="g298" href="#g" gradientTransform="matrix(10.8651 0 0 1 145.400 0)"/>
<linearGradient id="g299" href="#g" gradientTransform="matrix(10.6541 0 0 1 145.400 0)"/>
<linearGradient id="g300" href="#g" gradientTransform="matrix(10.4388 0 0 1 145.400 0)"/>
<linearGradient id="g301" href="#g" gradientTransform="matrix(10.2191 0 0 1 145.400 0)"/>
<linearGradient id="g302" href="#g" gradientTransform="matrix(9.9944 0 0 1 145.400 0)"/>
<linearGradient id="g303" href="#g" gradientTransform="matrix(9.7646 0 0 1 145.400 0)"/>
<linearGradient id="g304" href="#g" gradientTransform="matrix(9.5293 0 0 1 145.400 0)"/>
<linearGradient id="g305" href="#g" gradientTransform="matrix(9.2880 0 0 1 145.400 0)"/>
<linearGradient id="g306" href="#g" gradientTransform="matrix(9.0403 0 0 1 145.400 0)"/>
<linearGradient id="g307" href="#g" gradientTransform="matrix(8.8114 0 0 1 145.400 0)"/>
<linearGradient id="cb" gradientUnits="userSpaceOnUse" x1="0" y1="1361.0" x2="0" y2="135.4">
<stop offset="0.00000" stop-color="#3e26a8"/>
<stop offset="0.01587" stop-color="#402ab4"/>
<stop offset="0.03175" stop-color="#422ec0"/>
<stop offset="0.04762" stop-color="#4332cb"/>
<stop offset="0.06349" stop-color="#4537d5"/>
<stop offset="0.07937" stop-color="#463cde"/>
<stop offset="0.09524" stop-color="#4741e5"/>
<stop offset="0.11111" stop-color="#4747eb"/>
<stop offset="0.12698" stop-color="#484df0"/>
<stop offset="0.14286" stop-color="#4852f4"/>
<stop offset="0.15873" stop-color="#4758f8"/>
<stop offset="0.17460" stop-color="#465efb"/>
<stop offset="0.19048" stop-color="#4563fd"/>
<stop offset="0.20635" stop-color="#4269fe"/>
<stop offset="0.22222" stop-color="#3e6fff"/>
<stop offset="0.23810" stop-color="#3875fe"/>
<stop offset="0.25397" stop-color="#327cfc"/>
<stop offset="0.26984" stop-color="#2f81fa"/>
<stop offset="0.28571" stop-color="#2e87f7"/>
<stop offset="0.30159" stop-color="#2d8cf3"/>
<stop offset="0.31746" stop-color="#2b91ef"/>
<stop offset="0.33333" stop-color="#2797eb"/>
<stop offset="0.34921" stop-color="#259be8"/>
<stop offset="0.36508" stop-color="#23a0e5"/>
<stop offset="0.38095" stop-color="#20a5e3"/>
<stop offset="0.39683" stop-color="#1ca9df"/>
<stop offset="0.41270" stop-color="#18addb"/>
<stop offset="0.42857" stop-color="#12b1d6"/>
<stop offset="0.44444" stop-color="#08b5d0"/>
<stop offset="0.46032" stop-color="#01b8ca"/>
<stop offset="0.47619" stop-color="#02bac3"/>
<stop offset="0.49206" stop-color="#0bbdbd"/>
<stop offset="0.50794" stop-color="#19bfb6"/>
<stop offset="0.52381" stop-color="#24c1ae"/>
<stop offset="0.53968" stop-color="#2cc4a7"/>
<stop offset="0.55556" stop-color="#31c69f"/>
<stop offset="0.57143" stop-color="#37c897"/>
<stop offset="0.58730" stop-color="#3fca8e"/>
<stop offset="0.60317" stop-color="#4acb84"/>
<stop offset="0.61905" stop-color="#57cc7a"/>
<stop offset="0.63492" stop-color="#64cd6f"/>
<stop offset="0.65079" stop-color="#72cd64"/>
<stop offset="0.66667" stop-color="#81cc59"/>
<stop offset="0.68254" stop-color="#8fcb4e"/>
<stop offset="0.69841" stop-color="#9dc943"/>
<stop offset="0.71429" stop-color="#abc739"/>
<stop offset="0.73016" stop-color="#b9c431"/>
<stop offset="0.74603" stop-color="#c5c22a"/>
<stop offset="0.76190" stop-color="#d1bf27"/>
<stop offset="0.77778" stop-color="#dcbd29"/>
<stop offset="0.79365" stop-color="#e6bb2d"/>
<stop offset="0.80952" stop-color="#f0ba36"/>
<stop offset="0.82540" stop-color="#f8ba3d"/>
<stop offset="0.84127" stop-color="#febe3c"/>
<stop offset="0.85714" stop-color="#fec338"/>
<stop offset="0.87302" stop-color="#fec934"/>
<stop offset="0.88889" stop-color="#fccf30"/>
<stop offset="0.90476" stop-color="#fad62d"/>
<stop offset="0.92063" stop-color="#f7dc2a"/>
<stop offset="0.93651" stop-color="#f5e327"/>
<stop offset="0.95238" stop-color="#f5e924"/>
<stop offset="0.96825" stop-color="#f6ef20"/>
<stop offset="0.98413" stop-color="#f7f51b"/>
<stop offset="1.00000" stop-color="#f9fb15"/>
</linearGradient>
<clipPath id="pc"><rect x="227.0" y="135.5" width="1635.0" height="1231.2"/></clipPath>
<linearGradient id="fg" gradientUnits="userSpaceOnUse" x1="227.0" y1="0" x2="307.0" y2="0"><stop offset="0" stop-color="#fff"/><stop offset="0.3" stop-color="#fff"/><stop offset="1" stop-color="#000"/></linearGradient>
<mask id="fm" maskUnits="userSpaceOnUse" x="227.0" y="135.5" width="80" height="1231.2"><rect x="227.0" y="135.5" width="80" height="1231.2" fill="url(#fg)"/></mask>
</defs>
<g clip-path="url(#pc)"><g id="hm" shape-rendering="crispEdges">
<rect x="215.0" y="135.50" width="1647.0" height="4.60" fill="url(#g0)"/>
<rect x="215.0" y="139.50" width="1647.0" height="4.60" fill="url(#g1)"/>
<rect x="215.0" y="143.50" width="1647.0" height="4.60" fill="url(#g2)"/>
<rect x="215.0" y="147.50" width="1647.0" height="4.60" fill="url(#g3)"/>
<rect x="215.0" y="151.50" width="1647.0" height="4.60" fill="url(#g4)"/>
<rect x="215.0" y="155.50" width="1647.0" height="4.60" fill="url(#g5)"/>
<rect x="215.0" y="159.50" width="1647.0" height="4.60" fill="url(#g6)"/>
<rect x="215.0" y="163.50" width="1647.0" height="4.60" fill="url(#g7)"/>
<rect x="215.0" y="167.50" width="1647.0" height="4.60" fill="url(#g8)"/>
<rect x="215.0" y="171.50" width="1647.0" height="4.60" fill="url(#g9)"/>
<rect x="215.0" y="175.50" width="1647.0" height="4.60" fill="url(#g10)"/>
<rect x="215.0" y="179.50" width="1647.0" height="4.60" fill="url(#g11)"/>
<rect x="215.0" y="183.50" width="1647.0" height="4.60" fill="url(#g12)"/>
<rect x="215.0" y="187.50" width="1647.0" height="4.60" fill="url(#g13)"/>
<rect x="215.0" y="191.50" width="1647.0" height="4.60" fill="url(#g14)"/>
<rect x="215.0" y="195.50" width="1647.0" height="4.60" fill="url(#g15)"/>
<rect x="215.0" y="199.50" width="1647.0" height="4.60" fill="url(#g16)"/>
<rect x="215.0" y="203.50" width="1647.0" height="4.60" fill="url(#g17)"/>
<rect x="215.0" y="207.50" width="1647.0" height="4.60" fill="url(#g18)"/>
<rect x="215.0" y="211.50" width="1647.0" height="4.60" fill="url(#g19)"/>
<rect x="215.0" y="215.50" width="1647.0" height="4.60" fill="url(#g20)"/>
<rect x="215.0" y="219.50" width="1647.0" height="4.60" fill="url(#g21)"/>
<rect x="215.0" y="223.50" width="1647.0" height="4.60" fill="url(#g22)"/>
<rect x="215.0" y="227.50" width="1647.0" height="4.60" fill="url(#g23)"/>
<rect x="215.0" y="231.50" width="1647.0" height="4.60" fill="url(#g24)"/>
<rect x="215.0" y="235.50" width="1647.0" height="4.60" fill="url(#g25)"/>
<rect x="215.0" y="239.50" width="1647.0" height="4.60" fill="url(#g26)"/>
<rect x="215.0" y="243.50" width="1647.0" height="4.60" fill="url(#g27)"/>
<rect x="215.0" y="247.50" width="1647.0" height="4.60" fill="url(#g28)"/>
<rect x="215.0" y="251.50" width="1647.0" height="4.60" fill="url(#g29)"/>
<rect x="215.0" y="255.50" width="1647.0" height="4.60" fill="url(#g30)"/>
<rect x="215.0" y="259.50" width="1647.0" height="4.60" fill="url(#g31)"/>
<rect x="215.0" y="263.50" width="1647.0" height="4.60" fill="url(#g32)"/>
<rect x="215.0" y="267.50" width="1647.0" height="4.60" fill="url(#g33)"/>
<rect x="215.0" y="271.50" width="1647.0" height="4.60" fill="url(#g34)"/>
<rect x="215.0" y="275.50" width="1647.0" height="4.60" fill="url(#g35)"/>
<rect x="215.0" y="279.50" width="1647.0" height="4.60" fill="url(#g36)"/>
<rect x="215.0" y="283.50" width="1647.0" height="4.60" fill="url(#g37)"/>
<rect x="215.0" y="287.50" width="1647.0" height="4.60" fill="url(#g38)"/>
<rect x="215.0" y="291.50" width="1647.0" height="4.60" fill="url(#g39)"/>
<rect x="215.0" y="295.50" width="1647.0" height="4.60" fill="url(#g40)"/>
<rect x="215.0" y="299.50" width="1647.0" height="4.60" fill="url(#g41)"/>
<rect x="215.0" y="303.50" width="1647.0" height="4.60" fill="url(#g42)"/>
<rect x="215.0" y="307.50" width="1647.0" height="4.60" fill="url(#g43)"/>
<rect x="215.0" y="311.50" width="1647.0" height="4.60" fill="url(#g44)"/>
<rect x="215.0" y="315.50" width="1647.0" height="4.60" fill="url(#g45)"/>
<rect x="215.0" y="319.50" width="1647.0" height="4.60" fill="url(#g46)"/>
<rect x="215.0" y="323.50" width="1647.0" height="4.60" fill="url(#g47)"/>
<rect x="215.0" y="327.50" width="1647.0" height="4.60" fill="url(#g48)"/>
<rect x="215.0" y="331.50" width="1647.0" height="4.60" fill="url(#g49)"/>
<rect x="215.0" y="335.50" width="1647.0" height="4.60" fill="url(#g50)"/>
<rect x="215.0" y="339.50" width="1647.0" height="4.60" fill="url(#g51)"/>
<rect x="215.0" y="343.50" width="1647.0" height="4.60" fill="url(#g52)"/>
<rect x="215.0" y="347.50" width="1647.0" height="4.60" fill="url(#g53)"/>
<rect x="215.0" y="351.50" width="1647.0" height="4.60" fill="url(#g54)"/>
<rect x="215.0" y="355.50" width="1647.0" height="4.60" fill="url(#g55)"/>
<rect x="215.0" y="359.50" width="1647.0" height="4.60" fill="url(#g56)"/>
<rect x="215.0" y="363.50" width="1647.0" height="4.60" fill="url(#g57)"/>
<rect x="215.0" y="367.50" width="1647.0" height="4.60" fill="url(#g58)"/>
<rect x="215.0" y="371.50" width="1647.0" height="4.60" fill="url(#g59)"/>
<rect x="215.0" y="375.50" width="1647.0" height="4.60" fill="url(#g60)"/>
<rect x="215.0" y="379.50" width="1647.0" height="4.60" fill="url(#g61)"/>
<rect x="215.0" y="383.50" width="1647.0" height="4.60" fill="url(#g62)"/>
<rect x="215.0" y="387.50" width="1647.0" height="4.60" fill="url(#g63)"/>
<rect x="215.0" y="391.50" width="1647.0" height="4.60" fill="url(#g64)"/>
<rect x="215.0" y="395.50" width="1647.0" height="4.60" fill="url(#g65)"/>
<rect x="215.0" y="399.50" width="1647.0" height="4.60" fill="url(#g66)"/>
<rect x="215.0" y="403.50" width="1647.0" height="4.60" fill="url(#g67)"/>
<rect x="215.0" y="407.50" width="1647.0" height="4.60" fill="url(#g68)"/>
<rect x="215.0" y="411.50" width="1647.0" height="4.60" fill="url(#g69)"/>
<rect x="215.0" y="415.50" width="1647.0" height="4.60" fill="url(#g70)"/>
<rect x="215.0" y="419.50" width="1647.0" height="4.60" fill="url(#g71)"/>
<rect x="215.0" y="423.50" width="1647.0" height="4.60" fill="url(#g72)"/>
<rect x="215.0" y="427.50" width="1647.0" height="4.60" fill="url(#g73)"/>
<rect x="215.0" y="431.50" width="1647.0" height="4.60" fill="url(#g74)"/>
<rect x="215.0" y="435.50" width="1647.0" height="4.60" fill="url(#g75)"/>
<rect x="215.0" y="439.50" width="1647.0" height="4.60" fill="url(#g76)"/>
<rect x="215.0" y="443.50" width="1647.0" height="4.60" fill="url(#g77)"/>
<rect x="215.0" y="447.50" width="1647.0" height="4.60" fill="url(#g78)"/>
<rect x="215.0" y="451.50" width="1647.0" height="4.60" fill="url(#g79)"/>
<rect x="215.0" y="455.50" width="1647.0" height="4.60" fill="url(#g80)"/>
<rect x="215.0" y="459.50" width="1647.0" height="4.60" fill="url(#g81)"/>
<rect x="215.0" y="463.50" width="1647.0" height="4.60" fill="url(#g82)"/>
<rect x="215.0" y="467.50" width="1647.0" height="4.60" fill="url(#g83)"/>
<rect x="215.0" y="471.50" width="1647.0" height="4.60" fill="url(#g84)"/>
<rect x="215.0" y="475.50" width="1647.0" height="4.60" fill="url(#g85)"/>
<rect x="215.0" y="479.50" width="1647.0" height="4.60" fill="url(#g86)"/>
<rect x="215.0" y="483.50" width="1647.0" height="4.60" fill="url(#g87)"/>
<rect x="215.0" y="487.50" width="1647.0" height="4.60" fill="url(#g88)"/>
<rect x="215.0" y="491.50" width="1647.0" height="4.60" fill="url(#g89)"/>
<rect x="215.0" y="495.50" width="1647.0" height="4.60" fill="url(#g90)"/>
<rect x="215.0" y="499.50" width="1647.0" height="4.60" fill="url(#g91)"/>
<rect x="215.0" y="503.50" width="1647.0" height="4.60" fill="url(#g92)"/>
<rect x="215.0" y="507.50" width="1647.0" height="4.60" fill="url(#g93)"/>
<rect x="215.0" y="511.50" width="1647.0" height="4.60" fill="url(#g94)"/>
<rect x="215.0" y="515.50" width="1647.0" height="4.60" fill="url(#g95)"/>
<rect x="215.0" y="519.50" width="1647.0" height="4.60" fill="url(#g96)"/>
<rect x="215.0" y="523.50" width="1647.0" height="4.60" fill="url(#g97)"/>
<rect x="215.0" y="527.50" width="1647.0" height="4.60" fill="url(#g98)"/>
<rect x="215.0" y="531.50" width="1647.0" height="4.60" fill="url(#g99)"/>
<rect x="215.0" y="535.50" width="1647.0" height="4.60" fill="url(#g100)"/>
<rect x="215.0" y="539.50" width="1647.0" height="4.60" fill="url(#g101)"/>
<rect x="215.0" y="543.50" width="1647.0" height="4.60" fill="url(#g102)"/>
<rect x="215.0" y="547.50" width="1647.0" height="4.60" fill="url(#g103)"/>
<rect x="215.0" y="551.50" width="1647.0" height="4.60" fill="url(#g104)"/>
<rect x="215.0" y="555.50" width="1647.0" height="4.60" fill="url(#g105)"/>
<rect x="215.0" y="559.50" width="1647.0" height="4.60" fill="url(#g106)"/>
<rect x="215.0" y="563.50" width="1647.0" height="4.60" fill="url(#g107)"/>
<rect x="215.0" y="567.50" width="1647.0" height="4.60" fill="url(#g108)"/>
<rect x="215.0" y="571.50" width="1647.0" height="4.60" fill="url(#g109)"/>
<rect x="215.0" y="575.50" width="1647.0" height="4.60" fill="url(#g110)"/>
<rect x="215.0" y="579.50" width="1647.0" height="4.60" fill="url(#g111)"/>
<rect x="215.0" y="583.50" width="1647.0" height="4.60" fill="url(#g112)"/>
<rect x="215.0" y="587.50" width="1647.0" height="4.60" fill="url(#g113)"/>
<rect x="215.0" y="591.50" width="1647.0" height="4.60" fill="url(#g114)"/>
<rect x="215.0" y="595.50" width="1647.0" height="4.60" fill="url(#g115)"/>
<rect x="215.0" y="599.50" width="1647.0" height="4.60" fill="url(#g116)"/>
<rect x="215.0" y="603.50" width="1647.0" height="4.60" fill="url(#g117)"/>
<rect x="215.0" y="607.50" width="1647.0" height="4.60" fill="url(#g118)"/>
<rect x="215.0" y="611.50" width="1647.0" height="4.60" fill="url(#g119)"/>
<rect x="215.0" y="615.50" width="1647.0" height="4.60" fill="url(#g120)"/>
<rect x="215.0" y="619.50" width="1647.0" height="4.60" fill="url(#g121)"/>
<rect x="215.0" y="623.50" width="1647.0" height="4.60" fill="url(#g122)"/>
<rect x="215.0" y="627.50" width="1647.0" height="4.60" fill="url(#g123)"/>
<rect x="215.0" y="631.50" width="1647.0" height="4.60" fill="url(#g124)"/>
<rect x="215.0" y="635.50" width="1647.0" height="4.60" fill="url(#g125)"/>
<rect x="215.0" y="639.50" width="1647.0" height="4.60" fill="url(#g126)"/>
<rect x="215.0" y="643.50" width="1647.0" height="4.60" fill="url(#g127)"/>
<rect x="215.0" y="647.50" width="1647.0" height="4.60" fill="url(#g128)"/>
<rect x="215.0" y="651.50" width="1647.0" height="4.60" fill="url(#g129)"/>
<rect x="215.0" y="655.50" width="1647.0" height="4.60" fill="url(#g130)"/>
<rect x="215.0" y="659.50" width="1647.0" height="4.60" fill="url(#g131)"/>
<rect x="215.0" y="663.50" width="1647.0" height="4.60" fill="url(#g132)"/>
<rect x="215.0" y="667.50" width="1647.0" height="4.60" fill="url(#g133)"/>
<rect x="215.0" y="671.50" width="1647.0" height="4.60" fill="url(#g134)"/>
<rect x="215.0" y="675.50" width="1647.0" height="4.60" fill="url(#g135)"/>
<rect x="215.0" y="679.50" width="1647.0" height="4.60" fill="url(#g136)"/>
<rect x="215.0" y="683.50" width="1647.0" height="4.60" fill="url(#g137)"/>
<rect x="215.0" y="687.50" width="1647.0" height="4.60" fill="url(#g138)"/>
<rect x="215.0" y="691.50" width="1647.0" height="4.60" fill="url(#g139)"/>
<rect x="215.0" y="695.50" width="1647.0" height="4.60" fill="url(#g140)"/>
<rect x="215.0" y="699.50" width="1647.0" height="4.60" fill="url(#g141)"/>
<rect x="215.0" y="703.50" width="1647.0" height="4.60" fill="url(#g142)"/>
<rect x="215.0" y="707.50" width="1647.0" height="4.60" fill="url(#g143)"/>
<rect x="215.0" y="711.50" width="1647.0" height="4.60" fill="url(#g144)"/>
<rect x="215.0" y="715.50" width="1647.0" height="4.60" fill="url(#g145)"/>
<rect x="215.0" y="719.50" width="1647.0" height="4.60" fill="url(#g146)"/>
<rect x="215.0" y="723.50" width="1647.0" height="4.60" fill="url(#g147)"/>
<rect x="215.0" y="727.50" width="1647.0" height="4.60" fill="url(#g148)"/>
<rect x="215.0" y="731.50" width="1647.0" height="4.60" fill="url(#g149)"/>
<rect x="215.0" y="735.50" width="1647.0" height="4.60" fill="url(#g150)"/>
<rect x="215.0" y="739.50" width="1647.0" height="4.60" fill="url(#g151)"/>
<rect x="215.0" y="743.50" width="1647.0" height="4.60" fill="url(#g152)"/>
<rect x="215.0" y="747.50" width="1647.0" height="4.60" fill="url(#g153)"/>
<rect x="215.0" y="751.50" width="1647.0" height="4.60" fill="url(#g154)"/>
<rect x="215.0" y="755.50" width="1647.0" height="4.60" fill="url(#g155)"/>
<rect x="215.0" y="759.50" width="1647.0" height="4.60" fill="url(#g156)"/>
<rect x="215.0" y="763.50" width="1647.0" height="4.60" fill="url(#g157)"/>
<rect x="215.0" y="767.50" width="1647.0" height="4.60" fill="url(#g158)"/>
<rect x="215.0" y="771.50" width="1647.0" height="4.60" fill="url(#g159)"/>
<rect x="215.0" y="775.50" width="1647.0" height="4.60" fill="url(#g160)"/>
<rect x="215.0" y="779.50" width="1647.0" height="4.60" fill="url(#g161)"/>
<rect x="215.0" y="783.50" width="1647.0" height="4.60" fill="url(#g162)"/>
<rect x="215.0" y="787.50" width="1647.0" height="4.60" fill="url(#g163)"/>
<rect x="215.0" y="791.50" width="1647.0" height="4.60" fill="url(#g164)"/>
<rect x="215.0" y="795.50" width="1647.0" height="4.60" fill="url(#g165)"/>
<rect x="215.0" y="799.50" width="1647.0" height="4.60" fill="url(#g166)"/>
<rect x="215.0" y="803.50" width="1647.0" height="4.60" fill="url(#g167)"/>
<rect x="215.0" y="807.50" width="1647.0" height="4.60" fill="url(#g168)"/>
<rect x="215.0" y="811.50" width="1647.0" height="4.60" fill="url(#g169)"/>
<rect x="215.0" y="815.50" width="1647.0" height="4.60" fill="url(#g170)"/>
<rect x="215.0" y="819.50" width="1647.0" height="4.60" fill="url(#g171)"/>
<rect x="215.0" y="823.50" width="1647.0" height="4.60" fill="url(#g172)"/>
<rect x="215.0" y="827.50" width="1647.0" height="4.60" fill="url(#g173)"/>
<rect x="215.0" y="831.50" width="1647.0" height="4.60" fill="url(#g174)"/>
<rect x="215.0" y="835.50" width="1647.0" height="4.60" fill="url(#g175)"/>
<rect x="215.0" y="839.50" width="1647.0" height="4.60" fill="url(#g176)"/>
<rect x="215.0" y="843.50" width="1647.0" height="4.60" fill="url(#g177)"/>
<rect x="215.0" y="847.50" width="1647.0" height="4.60" fill="url(#g178)"/>
<rect x="215.0" y="851.50" width="1647.0" height="4.60" fill="url(#g179)"/>
<rect x="215.0" y="855.50" width="1647.0" height="4.60" fill="url(#g180)"/>
<rect x="215.0" y="859.50" width="1647.0" height="4.60" fill="url(#g181)"/>
<rect x="215.0" y="863.50" width="1647.0" height="4.60" fill="url(#g182)"/>
<rect x="215.0" y="867.50" width="1647.0" height="4.60" fill="url(#g183)"/>
<rect x="215.0" y="871.50" width="1647.0" height="4.60" fill="url(#g184)"/>
<rect x="215.0" y="875.50" width="1647.0" height="4.60" fill="url(#g185)"/>
<rect x="215.0" y="879.50" width="1647.0" height="4.60" fill="url(#g186)"/>
<rect x="215.0" y="883.50" width="1647.0" height="4.60" fill="url(#g187)"/>
<rect x="215.0" y="887.50" width="1647.0" height="4.60" fill="url(#g188)"/>
<rect x="215.0" y="891.50" width="1647.0" height="4.60" fill="url(#g189)"/>
<rect x="215.0" y="895.50" width="1647.0" height="4.60" fill="url(#g190)"/>
<rect x="215.0" y="899.50" width="1647.0" height="4.60" fill="url(#g191)"/>
<rect x="215.0" y="903.50" width="1647.0" height="4.60" fill="url(#g192)"/>
<rect x="215.0" y="907.50" width="1647.0" height="4.60" fill="url(#g193)"/>
<rect x="215.0" y="911.50" width="1647.0" height="4.60" fill="url(#g194)"/>
<rect x="215.0" y="915.50" width="1647.0" height="4.60" fill="url(#g195)"/>
<rect x="215.0" y="919.50" width="1647.0" height="4.60" fill="url(#g196)"/>
<rect x="215.0" y="923.50" width="1647.0" height="4.60" fill="url(#g197)"/>
<rect x="215.0" y="927.50" width="1647.0" height="4.60" fill="url(#g198)"/>
<rect x="215.0" y="931.50" width="1647.0" height="4.60" fill="url(#g199)"/>
<rect x="215.0" y="935.50" width="1647.0" height="4.60" fill="url(#g200)"/>
<rect x="215.0" y="939.50" width="1647.0" height="4.60" fill="url(#g201)"/>
<rect x="215.0" y="943.50" width="1647.0" height="4.60" fill="url(#g202)"/>
<rect x="215.0" y="947.50" width="1647.0" height="4.60" fill="url(#g203)"/>
<rect x="215.0" y="951.50" width="1647.0" height="4.60" fill="url(#g204)"/>
<rect x="215.0" y="955.50" width="1647.0" height="4.60" fill="url(#g205)"/>
<rect x="215.0" y="959.50" width="1647.0" height="4.60" fill="url(#g206)"/>
<rect x="215.0" y="963.50" width="1647.0" height="4.60" fill="url(#g207)"/>
<rect x="215.0" y="967.50" width="1647.0" height="4.60" fill="url(#g208)"/>
<rect x="215.0" y="971.50" width="1647.0" height="4.60" fill="url(#g209)"/>
<rect x="215.0" y="975.50" width="1647.0" height="4.60" fill="url(#g210)"/>
<rect x="215.0" y="979.50" width="1647.0" height="4.60" fill="url(#g211)"/>
<rect x="215.0" y="983.50" width="1647.0" height="4.60" fill="url(#g212)"/>
<rect x="215.0" y="987.50" width="1647.0" height="4.60" fill="url(#g213)"/>
<rect x="215.0" y="991.50" width="1647.0" height="4.60" fill="url(#g214)"/>
<rect x="215.0" y="995.50" width="1647.0" height="4.60" fill="url(#g215)"/>
<rect x="215.0" y="999.50" width="1647.0" height="4.60" fill="url(#g216)"/>
<rect x="215.0" y="1003.50" width="1647.0" height="4.60" fill="url(#g217)"/>
<rect x="215.0" y="1007.50" width="1647.0" height="4.60" fill="url(#g218)"/>
<rect x="215.0" y="1011.50" width="1647.0" height="4.60" fill="url(#g219)"/>
<rect x="215.0" y="1015.50" width="1647.0" height="4.60" fill="url(#g220)"/>
<rect x="215.0" y="1019.50" width="1647.0" height="4.60" fill="url(#g221)"/>
<rect x="215.0" y="1023.50" width="1647.0" height="4.60" fill="url(#g222)"/>
<rect x="215.0" y="1027.50" width="1647.0" height="4.60" fill="url(#g223)"/>
<rect x="215.0" y="1031.50" width="1647.0" height="4.60" fill="url(#g224)"/>
<rect x="215.0" y="1035.50" width="1647.0" height="4.60" fill="url(#g225)"/>
<rect x="215.0" y="1039.50" width="1647.0" height="4.60" fill="url(#g226)"/>
<rect x="215.0" y="1043.50" width="1647.0" height="4.60" fill="url(#g227)"/>
<rect x="215.0" y="1047.50" width="1647.0" height="4.60" fill="url(#g228)"/>
<rect x="215.0" y="1051.50" width="1647.0" height="4.60" fill="url(#g229)"/>
<rect x="215.0" y="1055.50" width="1647.0" height="4.60" fill="url(#g230)"/>
<rect x="215.0" y="1059.50" width="1647.0" height="4.60" fill="url(#g231)"/>
<rect x="215.0" y="1063.50" width="1647.0" height="4.60" fill="url(#g232)"/>
<rect x="215.0" y="1067.50" width="1647.0" height="4.60" fill="url(#g233)"/>
<rect x="215.0" y="1071.50" width="1647.0" height="4.60" fill="url(#g234)"/>
<rect x="215.0" y="1075.50" width="1647.0" height="4.60" fill="url(#g235)"/>
<rect x="215.0" y="1079.50" width="1647.0" height="4.60" fill="url(#g236)"/>
<rect x="215.0" y="1083.50" width="1647.0" height="4.60" fill="url(#g237)"/>
<rect x="215.0" y="1087.50" width="1647.0" height="4.60" fill="url(#g238)"/>
<rect x="215.0" y="1091.50" width="1647.0" height="4.60" fill="url(#g239)"/>
<rect x="215.0" y="1095.50" width="1647.0" height="4.60" fill="url(#g240)"/>
<rect x="215.0" y="1099.50" width="1647.0" height="4.60" fill="url(#g241)"/>
<rect x="215.0" y="1103.50" width="1647.0" height="4.60" fill="url(#g242)"/>
<rect x="215.0" y="1107.50" width="1647.0" height="4.60" fill="url(#g243)"/>
<rect x="215.0" y="1111.50" width="1647.0" height="4.60" fill="url(#g244)"/>
<rect x="215.0" y="1115.50" width="1647.0" height="4.60" fill="url(#g245)"/>
<rect x="215.0" y="1119.50" width="1647.0" height="4.60" fill="url(#g246)"/>
<rect x="215.0" y="1123.50" width="1647.0" height="4.60" fill="url(#g247)"/>
<rect x="215.0" y="1127.50" width="1647.0" height="4.60" fill="url(#g248)"/>
<rect x="215.0" y="1131.50" width="1647.0" height="4.60" fill="url(#g249)"/>
<rect x="215.0" y="1135.50" width="1647.0" height="4.60" fill="url(#g250)"/>
<rect x="215.0" y="1139.50" width="1647.0" height="4.60" fill="url(#g251)"/>
<rect x="215.0" y="1143.50" width="1647.0" height="4.60" fill="url(#g252)"/>
<rect x="215.0" y="1147.50" width="1647.0" height="4.60" fill="url(#g253)"/>
<rect x="215.0" y="1151.50" width="1647.0" height="4.60" fill="url(#g254)"/>
<rect x="215.0" y="1155.50" width="1647.0" height="4.60" fill="url(#g255)"/>
<rect x="215.0" y="1159.50" width="1647.0" height="4.60" fill="url(#g256)"/>
<rect x="215.0" y="1163.50" width="1647.0" height="4.60" fill="url(#g257)"/>
<rect x="215.0" y="1167.50" width="1647.0" height="4.60" fill="url(#g258)"/>
<rect x="215.0" y="1171.50" width="1647.0" height="4.60" fill="url(#g259)"/>
<rect x="215.0" y="1175.50" width="1647.0" height="4.60" fill="url(#g260)"/>
<rect x="215.0" y="1179.50" width="1647.0" height="4.60" fill="url(#g261)"/>
<rect x="215.0" y="1183.50" width="1647.0" height="4.60" fill="url(#g262)"/>
<rect x="215.0" y="1187.50" width="1647.0" height="4.60" fill="url(#g263)"/>
<rect x="215.0" y="1191.50" width="1647.0" height="4.60" fill="url(#g264)"/>
<rect x="215.0" y="1195.50" width="1647.0" height="4.60" fill="url(#g265)"/>
<rect x="215.0" y="1199.50" width="1647.0" height="4.60" fill="url(#g266)"/>
<rect x="215.0" y="1203.50" width="1647.0" height="4.60" fill="url(#g267)"/>
<rect x="215.0" y="1207.50" width="1647.0" height="4.60" fill="url(#g268)"/>
<rect x="215.0" y="1211.50" width="1647.0" height="4.60" fill="url(#g269)"/>
<rect x="215.0" y="1215.50" width="1647.0" height="4.60" fill="url(#g270)"/>
<rect x="215.0" y="1219.50" width="1647.0" height="4.60" fill="url(#g271)"/>
<rect x="215.0" y="1223.50" width="1647.0" height="4.60" fill="url(#g272)"/>
<rect x="215.0" y="1227.50" width="1647.0" height="4.60" fill="url(#g273)"/>
<rect x="215.0" y="1231.50" width="1647.0" height="4.60" fill="url(#g274)"/>
<rect x="215.0" y="1235.50" width="1647.0" height="4.60" fill="url(#g275)"/>
<rect x="215.0" y="1239.50" width="1647.0" height="4.60" fill="url(#g276)"/>
<rect x="215.0" y="1243.50" width="1647.0" height="4.60" fill="url(#g277)"/>
<rect x="215.0" y="1247.50" width="1647.0" height="4.60" fill="url(#g278)"/>
<rect x="215.0" y="1251.50" width="1647.0" height="4.60" fill="url(#g279)"/>
<rect x="215.0" y="1255.50" width="1647.0" height="4.60" fill="url(#g280)"/>
<rect x="215.0" y="1259.50" width="1647.0" height="4.60" fill="url(#g281)"/>
<rect x="215.0" y="1263.50" width="1647.0" height="4.60" fill="url(#g282)"/>
<rect x="215.0" y="1267.50" width="1647.0" height="4.60" fill="url(#g283)"/>
<rect x="215.0" y="1271.50" width="1647.0" height="4.60" fill="url(#g284)"/>
<rect x="215.0" y="1275.50" width="1647.0" height="4.60" fill="url(#g285)"/>
<rect x="215.0" y="1279.50" width="1647.0" height="4.60" fill="url(#g286)"/>
<rect x="215.0" y="1283.50" width="1647.0" height="4.60" fill="url(#g287)"/>
<rect x="215.0" y="1287.50" width="1647.0" height="4.60" fill="url(#g288)"/>
<rect x="215.0" y="1291.50" width="1647.0" height="4.60" fill="url(#g289)"/>
<rect x="215.0" y="1295.50" width="1647.0" height="4.60" fill="url(#g290)"/>
<rect x="215.0" y="1299.50" width="1647.0" height="4.60" fill="url(#g291)"/>
<rect x="215.0" y="1303.50" width="1647.0" height="4.60" fill="url(#g292)"/>
<rect x="215.0" y="1307.50" width="1647.0" height="4.60" fill="url(#g293)"/>
<rect x="215.0" y="1311.50" width="1647.0" height="4.60" fill="url(#g294)"/>
<rect x="215.0" y="1315.50" width="1647.0" height="4.60" fill="url(#g295)"/>
<rect x="215.0" y="1319.50" width="1647.0" height="4.60" fill="url(#g296)"/>
<rect x="215.0" y="1323.50" width="1647.0" height="4.60" fill="url(#g297)"/>
<rect x="215.0" y="1327.50" width="1647.0" height="4.60" fill="url(#g298)"/>
<rect x="215.0" y="1331.50" width="1647.0" height="4.60" fill="url(#g299)"/>
<rect x="215.0" y="1335.50" width="1647.0" height="4.60" fill="url(#g300)"/>
<rect x="215.0" y="1339.50" width="1647.0" height="4.60" fill="url(#g301)"/>
<rect x="215.0" y="1343.50" width="1647.0" height="4.60" fill="url(#g302)"/>
<rect x="215.0" y="1347.50" width="1647.0" height="4.60" fill="url(#g303)"/>
<rect x="215.0" y="1351.50" width="1647.0" height="4.60" fill="url(#g304)"/>
<rect x="215.0" y="1355.50" width="1647.0" height="4.60" fill="url(#g305)"/>
<rect x="215.0" y="1359.50" width="1647.0" height="4.60" fill="url(#g306)"/>
<rect x="215.0" y="1363.50" width="1647.0" height="3.20" fill="url(#g307)"/>
</g>
<g mask="url(#fm)"><use href="#hm" transform="matrix(1 0 0.0028 1 2.621 0)"/></g>
</g>
<g clip-path="url(#pc)" fill="none" stroke="#fff" stroke-width="3.9" stroke-linecap="butt" stroke-linejoin="round">
<path d="M530.3 132.5 L529.1 140.8 L527.9 149.0 L526.6 157.3 L525.4 165.6 L524.2 173.8 L522.9 182.1 L521.7 190.3 L520.4 198.6"/>
<path d="M482.8 434.1 L481.4 442.1 L480.1 450.1 L478.7 458.1 L477.3 466.1 L475.9 474.1 L474.6 482.1 L473.2 490.1 L471.8 498.1 L470.4 506.1 L469.0 514.1 L467.6 522.1 L466.2 530.1 L464.7 538.1 L463.3 546.1 L461.9 554.1 L460.4 562.1 L459.0 570.1 L457.5 578.1 L456.1 586.1 L454.6 594.1 L453.1 602.1 L451.6 610.1 L450.1 618.1 L448.6 626.1 L447.1 634.1 L445.6 642.1 L444.1 650.1 L442.6 658.1 L441.0 666.1 L439.5 674.1 L437.9 682.1 L436.4 690.1 L434.8 698.1 L433.2 706.1 L431.6 714.1 L430.0 722.1 L428.4 730.1 L426.8 738.1 L425.2 746.1 L423.6 754.1 L421.9 762.1 L420.3 770.1 L418.6 778.1 L416.9 786.1 L415.2 794.1 L413.6 802.1 L411.8 810.1 L410.1 818.1"/>
<path d="M353.7 1052.4 L351.5 1060.5 L349.2 1068.7 L346.9 1076.8 L344.6 1084.9 L342.3 1093.1 L339.9 1101.2 L337.5 1109.4 L335.1 1117.5 L332.6 1125.6 L330.2 1133.8 L327.6 1141.9 L325.1 1150.0 L322.5 1158.2 L319.8 1166.3 L317.2 1174.4 L314.4 1182.6 L311.7 1190.7 L308.9 1198.8 L306.0 1207.0 L303.1 1215.1 L300.1 1223.3 L297.1 1231.4 L294.0 1239.5 L290.9 1247.7 L287.7 1255.8 L284.4 1263.9 L281.0 1272.1 L277.5 1280.2 L274.0 1288.3 L270.3 1296.5 L266.6 1304.6 L262.7 1312.7 L258.6 1320.9 L254.5 1329.0 L250.1 1337.2 L245.6 1345.3 L240.9 1353.4 L235.9 1361.6 L230.6 1369.7"/>
<path d="M651.4 132.5 L649.8 140.8 L648.2 149.0 L646.5 157.3 L644.9 165.6 L643.3 173.8 L641.7 182.1 L640.0 190.3 L638.4 198.6"/>
<path d="M589.6 430.9 L587.8 438.9 L586.0 447.0 L584.2 455.0 L582.4 463.1 L580.6 471.1 L578.8 479.2 L576.9 487.2 L575.1 495.3 L573.2 503.3 L571.4 511.4 L569.5 519.4 L567.7 527.5 L565.8 535.5 L563.9 543.6 L562.0 551.6 L560.1 559.6 L558.2 567.7 L556.2 575.7 L554.3 583.8 L552.4 591.8 L550.4 599.9 L548.5 607.9 L546.5 616.0 L544.5 624.0 L542.5 632.1 L540.5 640.1 L538.5 648.2 L536.5 656.2 L534.5 664.3 L532.4 672.3 L530.4 680.4 L528.3 688.4 L526.2 696.4 L524.2 704.5 L522.1 712.5 L520.0 720.6 L517.8 728.6 L515.7 736.7 L513.6 744.7 L511.4 752.8 L509.2 760.8 L507.1 768.9 L504.9 776.9 L502.6 785.0 L500.4 793.0 L498.2 801.1 L495.9 809.1"/>
<path d="M424.3 1038.1 L421.5 1046.2 L418.6 1054.3 L415.7 1062.4 L412.7 1070.5 L409.7 1078.5 L406.7 1086.6 L403.6 1094.7 L400.5 1102.8 L397.4 1110.9 L394.2 1119.0 L391.0 1127.1 L387.7 1135.2 L384.4 1143.2 L381.0 1151.3 L377.6 1159.4 L374.2 1167.5 L370.7 1175.6 L367.1 1183.7 L363.5 1191.8 L359.8 1199.9 L356.1 1207.9 L352.3 1216.0 L348.4 1224.1 L344.4 1232.2 L340.4 1240.3 L336.3 1248.4 L332.0 1256.5 L327.7 1264.6 L323.3 1272.6 L318.8 1280.7 L314.1 1288.8 L309.3 1296.9 L304.4 1305.0 L299.3 1313.1 L294.1 1321.2 L288.6 1329.3 L283.0 1337.3 L277.0 1345.4 L270.9 1353.5 L264.3 1361.6 L257.4 1369.7"/>
<path d="M852.5 132.5 L850.1 141.4 L847.7 150.2 L845.3 159.1 L842.8 168.0 L840.4 176.9 L837.9 185.7 L835.5 194.6"/>
<path d="M768.9 422.1 L766.4 430.1 L763.9 438.2 L761.4 446.2 L758.9 454.3 L756.4 462.3 L753.8 470.4 L751.3 478.4 L748.7 486.5 L746.1 494.5 L743.6 502.6 L741.0 510.6 L738.4 518.7 L735.8 526.7 L733.1 534.8 L730.5 542.8 L727.8 550.9 L725.2 558.9 L722.5 567.0 L719.8 575.0 L717.1 583.1 L714.4 591.1 L711.7 599.2 L709.0 607.2 L706.2 615.2 L703.4 623.3 L700.7 631.3 L697.9 639.4 L695.1 647.4 L692.2 655.5 L689.4 663.5 L686.6 671.6 L683.7 679.6 L680.8 687.7 L677.9 695.7 L675.0 703.8 L672.1 711.8 L669.1 719.9 L666.2 727.9 L663.2 736.0 L660.2 744.0 L657.2 752.1 L654.1 760.1 L651.1 768.2 L648.0 776.2 L644.9 784.3 L641.8 792.3"/>
<path d="M547.0 1013.8 L543.1 1021.9 L539.2 1030.0 L535.3 1038.1 L531.2 1046.2 L527.2 1054.2 L523.1 1062.3 L519.0 1070.4 L514.8 1078.5 L510.5 1086.6 L506.3 1094.7 L501.9 1102.8 L497.5 1110.9 L493.1 1119.0 L488.6 1127.0 L484.0 1135.1 L479.4 1143.2 L474.7 1151.3 L470.0 1159.4 L465.2 1167.5 L460.3 1175.6 L455.3 1183.7 L450.2 1191.8 L445.1 1199.8 L439.8 1207.9 L434.5 1216.0 L429.1 1224.1 L423.6 1232.2 L417.9 1240.3 L412.1 1248.4 L406.3 1256.5 L400.2 1264.5 L394.1 1272.6 L387.7 1280.7 L381.2 1288.8 L374.5 1296.9 L367.6 1305.0 L360.5 1313.1 L353.2 1321.2 L345.6 1329.3 L337.6 1337.3 L329.4 1345.4 L320.7 1353.5 L311.6 1361.6 L302.0 1369.7"/>
<path d="M1234.1 132.5 L1230.5 141.2 L1226.8 149.8 L1223.2 158.5 L1219.5 167.2 L1215.8 175.8 L1212.1 184.5"/>
<path d="M1114.9 401.9 L1111.1 410.0 L1107.3 418.0 L1103.4 426.1 L1099.6 434.1 L1095.7 442.2 L1091.9 450.2 L1088.0 458.3 L1084.1 466.3 L1080.2 474.4 L1076.2 482.5 L1072.3 490.5 L1068.3 498.6 L1064.3 506.6 L1060.3 514.7 L1056.3 522.7 L1052.3 530.8 L1048.2 538.8 L1044.1 546.9 L1040.1 555.0 L1035.9 563.0 L1031.8 571.1 L1027.7 579.1 L1023.5 587.2 L1019.3 595.2 L1015.1 603.3 L1010.9 611.4 L1006.6 619.4 L1002.3 627.5 L998.0 635.5 L993.7 643.6 L989.4 651.6 L985.0 659.7 L980.7 667.7 L976.3 675.8 L971.8 683.9 L967.4 691.9 L962.9 700.0 L958.4 708.0 L953.9 716.1 L949.3 724.1 L944.7 732.2 L940.1 740.2 L935.5 748.3"/>
<path d="M808.8 950.4 L803.3 958.5 L797.7 966.5 L792.0 974.6 L786.3 982.7 L780.5 990.7 L774.7 998.8 L768.9 1006.8 L762.9 1014.9 L757.0 1023.0 L750.9 1031.0 L744.8 1039.1 L738.7 1047.2 L732.5 1055.2 L726.2 1063.3 L719.8 1071.4 L713.4 1079.4 L706.9 1087.5 L700.3 1095.5 L693.6 1103.6 L686.9 1111.7 L680.1 1119.7 L673.1 1127.8 L666.1 1135.9 L659.0 1143.9 L651.8 1152.0 L644.5 1160.0 L637.1 1168.1 L629.6 1176.2 L621.9 1184.2 L614.2 1192.3 L606.3 1200.4 L598.2 1208.4 L590.0 1216.5 L581.7 1224.6 L573.2 1232.6 L564.5 1240.7 L555.7 1248.7 L546.6 1256.8 L537.4 1264.9 L527.9 1272.9 L518.1 1281.0 L508.2 1289.1 L497.9 1297.1 L487.3 1305.2 L476.4 1313.3 L465.1 1321.3 L453.4 1329.4 L441.2 1337.4 L428.5 1345.5 L415.2 1353.6 L401.3 1361.6 L386.5 1369.7"/>
<path d="M1864.7 472.2 L1857.3 480.4 L1849.9 488.6 L1842.5 496.8 L1835.1 505.0 L1827.6 513.2 L1820.1 521.4 L1812.5 529.6 L1804.9 537.8 L1797.3 546.1 L1789.6 554.3 L1781.9 562.5 L1774.2 570.7 L1766.4 578.9"/>
<path d="M1597.2 748.0 L1588.6 756.1 L1580.0 764.2 L1571.3 772.3 L1562.5 780.4 L1553.7 788.5 L1544.8 796.6 L1535.9 804.7 L1526.9 812.8 L1517.8 820.9 L1508.7 829.0 L1499.6 837.1 L1490.3 845.2 L1481.0 853.3 L1471.7 861.4 L1462.2 869.5 L1452.7 877.7 L1443.2 885.8 L1433.5 893.9 L1423.8 902.0 L1414.1 910.1 L1404.2 918.2 L1394.3 926.3 L1384.2 934.4 L1374.1 942.5 L1364.0 950.6 L1353.7 958.7 L1343.3 966.8 L1332.9 974.9 L1322.4 983.0 L1311.7 991.1 L1301.0 999.2"/>
<path d="M1104.4 1134.4 L1091.3 1142.5 L1078.0 1150.6 L1064.6 1158.7 L1050.9 1166.9 L1037.0 1175.0 L1022.9 1183.1 L1008.6 1191.2 L994.0 1199.3 L979.2 1207.4 L964.1 1215.5 L948.7 1223.7 L933.0 1231.8 L917.0 1239.9 L900.7 1248.0 L883.9 1256.1 L866.9 1264.2 L849.4 1272.3 L831.4 1280.4 L813.0 1288.6 L794.0 1296.7 L774.5 1304.8 L754.3 1312.9 L733.5 1321.0 L711.9 1329.1 L689.4 1337.2 L666.0 1345.4 L641.5 1353.5 L615.6 1361.6 L588.3 1369.7"/>
</g>
<g font-size="77.5" fill="#000" text-anchor="middle">
<text transform="translate(501.6 316.4) rotate(-80.92)" x="0" y="26.0">0.006</text>
<text transform="translate(381.9 935.2) rotate(-76.46)" x="0" y="26.0">0.006</text>
<text transform="translate(614.0 314.8) rotate(-78.14)" x="0" y="26.0">0.005</text>
<text transform="translate(460.1 923.6) rotate(-72.64)" x="0" y="26.0">0.005</text>
<text transform="translate(802.2 308.4) rotate(-73.69)" x="0" y="26.0">0.004</text>
<text transform="translate(594.4 903.0) rotate(-66.83)" x="0" y="26.0">0.004</text>
<text transform="translate(1163.5 293.2) rotate(-65.89)" x="0" y="26.0">0.003</text>
<text transform="translate(872.2 849.3) rotate(-57.92)" x="0" y="26.0">0.003</text>
<text transform="translate(1681.8 663.5) rotate(-44.98)" x="0" y="26.0">0.002</text>
<text transform="translate(1202.7 1066.8) rotate(-34.52)" x="0" y="26.0">0.002</text>
</g>
<path d="M227.0 136.4H1862.0" stroke="#262626" stroke-opacity="0.5" stroke-width="2.2" fill="none"/>
<path d="M228.0 135.5V1366.7" stroke="#808080" stroke-opacity="0.45" stroke-width="2.4" fill="none"/>
<path d="M1861.2 135.5V1366.7" stroke="#262626" stroke-opacity="0.28" stroke-width="1.8" fill="none"/>
<g font-size="87.5" fill="#262626">
<text x="204" y="166.3" text-anchor="end">20</text>
<text x="204" y="490.8" text-anchor="end">15</text>
<text x="204" y="815.3" text-anchor="end">10</text>
<text x="201.5" y="1139.8" text-anchor="end">5</text>
<text x="574.9" y="1473.2" text-anchor="middle">50</text>
<text x="1004.0" y="1473.2" text-anchor="middle">100</text>
<text x="1433.2" y="1473.2" text-anchor="middle">150</text>
<text x="1862.3" y="1473.2" text-anchor="middle">200</text>
<text x="1044.9" y="1575" text-anchor="middle">Beam Size (μm)</text>
<text transform="translate(85.3 750.8) rotate(-90)" text-anchor="middle">Beam Current (kA)</text>
</g>
<rect x="1961.8" y="135.4" width="71.40000000000009" height="1225.6" fill="url(#cb)"/>
<rect x="1961.8" y="135.4" width="71.40000000000009" height="1225.6" fill="none" stroke="#262626" stroke-opacity="0.7" stroke-width="1.6"/>
<g stroke="#262626" stroke-opacity="0.8" stroke-width="1.6">
<path d="M2021.7 383.6H2033.2"/>
<path d="M2021.7 718.8H2033.2"/>
<path d="M2021.7 1054.9H2033.2"/>
</g>
<g font-size="77.5" fill="#262626">
<text x="2059.6" y="412.2">15</text>
<text x="2059.6" y="747.4">10</text>
<text x="2057.6" y="1083.5">5</text>
<text x="2034.2" y="122.4" font-size="105" stroke="#fff" stroke-width="3.3">×</text>
<text x="2096.5" y="106.5" font-size="78">10</text>
<text x="2172.2" y="67.3" font-size="64.0">-3</text>
</g>
</g>
<rect x="0" y="1592.5" width="2236" height="22.5" fill="#fff"/>
</svg></body></html>
